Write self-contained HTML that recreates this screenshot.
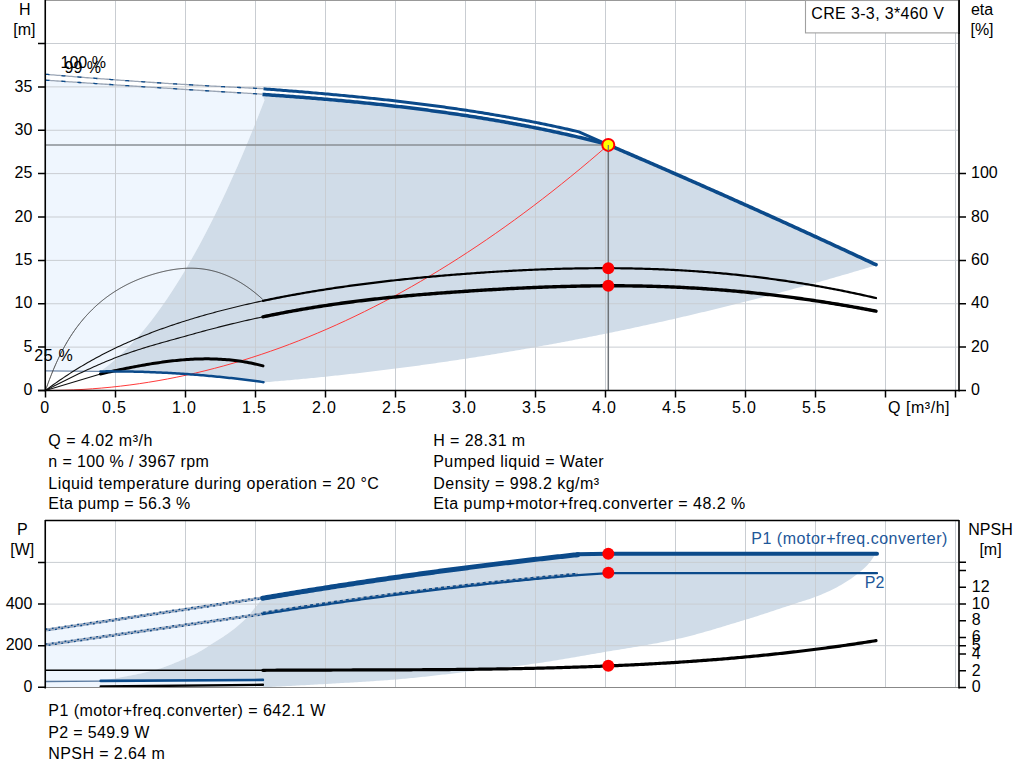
<!DOCTYPE html>
<html><head><meta charset="utf-8"><style>
html,body{margin:0;padding:0;background:#fff;width:1024px;height:781px;overflow:hidden;position:relative}
text{font-family:"Liberation Sans",sans-serif}
</style></head><body>
<svg width="1024" height="781" viewBox="0 0 1024 781" style="position:absolute;left:0;top:0">
<rect width="1024" height="781" fill="#ffffff"/>
<path d="M45.5 370.8 L45.50 80.14 L47.51 80.28 L49.52 80.42 L51.53 80.56 L53.54 80.70 L55.55 80.84 L57.56 80.98 L59.56 81.11 L61.57 81.25 L63.58 81.39 L65.59 81.53 L67.60 81.67 L69.61 81.80 L71.62 81.94 L73.63 82.08 L75.64 82.22 L77.65 82.35 L79.66 82.49 L81.67 82.63 L83.68 82.76 L85.69 82.90 L87.69 83.04 L89.70 83.17 L91.71 83.31 L93.72 83.44 L95.73 83.58 L97.74 83.72 L99.75 83.85 L101.76 83.99 L103.77 84.12 L105.78 84.25 L107.79 84.39 L109.80 84.52 L111.81 84.66 L113.81 84.79 L115.82 84.92 L117.83 85.06 L119.84 85.19 L121.85 85.32 L123.86 85.46 L125.87 85.59 L127.88 85.72 L129.89 85.85 L131.90 85.99 L133.91 86.12 L135.92 86.25 L137.93 86.38 L139.94 86.51 L141.94 86.64 L143.95 86.78 L145.96 86.91 L147.97 87.04 L149.98 87.17 L151.99 87.30 L154.00 87.43 L156.01 87.56 L158.02 87.69 L160.03 87.82 L162.04 87.95 L164.05 88.08 L166.06 88.21 L168.06 88.33 L170.07 88.46 L172.08 88.59 L174.09 88.72 L176.10 88.85 L178.11 88.98 L180.12 89.10 L182.13 89.23 L184.14 89.36 L186.15 89.49 L188.16 89.61 L190.17 89.74 L192.18 89.87 L194.19 89.99 L196.19 90.12 L198.20 90.24 L200.21 90.37 L202.22 90.50 L204.23 90.62 L206.24 90.75 L208.25 90.87 L210.26 91.00 L212.27 91.12 L214.28 91.25 L216.29 91.37 L218.30 91.50 L220.31 91.62 L222.31 91.74 L224.32 91.87 L226.33 91.99 L228.34 92.11 L230.35 92.24 L232.36 92.36 L234.37 92.48 L236.38 92.61 L238.39 92.73 L240.40 92.85 L242.41 92.97 L244.42 93.09 L246.43 93.22 L248.44 93.34 L250.44 93.46 L252.45 93.58 L254.46 93.70 L256.47 93.82 L258.48 93.94 L260.49 94.06 L262.50 94.18 L264.50 100.20 L259.10 114.06 L253.70 127.58 L248.30 140.77 L242.90 153.63 L237.50 166.16 L232.10 178.35 L226.70 190.21 L221.30 201.73 L215.90 212.92 L210.50 223.78 L205.10 234.30 L199.70 244.48 L194.30 254.33 L188.90 263.84 L183.50 273.02 L178.10 281.85 L172.70 290.35 L167.30 298.51 L161.90 306.33 L156.50 313.81 L151.10 320.94 L145.70 327.74 L140.30 334.19 L134.90 340.30 L129.50 346.07 L124.10 351.49 L118.70 356.57 L113.30 361.30 L107.90 365.68 L102.50 369.71 Z" fill="#eff6fe"/>
<path d="M262.50 94.44 L264.51 94.57 L266.52 94.71 L268.53 94.85 L270.54 94.99 L272.55 95.13 L274.56 95.27 L276.57 95.41 L278.58 95.55 L280.59 95.70 L282.60 95.84 L284.62 95.99 L286.63 96.14 L288.64 96.29 L290.65 96.44 L292.66 96.59 L294.67 96.74 L296.68 96.89 L298.69 97.05 L300.70 97.20 L302.71 97.36 L304.72 97.52 L306.73 97.68 L308.74 97.84 L310.75 98.00 L312.76 98.16 L314.77 98.33 L316.78 98.49 L318.79 98.66 L320.80 98.83 L322.81 99.00 L324.82 99.17 L326.83 99.34 L328.85 99.52 L330.86 99.69 L332.87 99.87 L334.88 100.05 L336.89 100.23 L338.90 100.41 L340.91 100.59 L342.92 100.78 L344.93 100.96 L346.94 101.15 L348.95 101.34 L350.96 101.53 L352.97 101.72 L354.98 101.92 L356.99 102.11 L359.00 102.31 L361.01 102.51 L363.02 102.71 L365.03 102.91 L367.04 103.12 L369.05 103.32 L371.07 103.53 L373.08 103.74 L375.09 103.95 L377.10 104.16 L379.11 104.38 L381.12 104.59 L383.13 104.81 L385.14 105.03 L387.15 105.26 L389.16 105.48 L391.17 105.70 L393.18 105.93 L395.19 106.16 L397.20 106.39 L399.21 106.63 L401.22 106.86 L403.23 107.10 L405.24 107.34 L407.25 107.58 L409.26 107.82 L411.27 108.07 L413.28 108.32 L415.30 108.57 L417.31 108.82 L419.32 109.07 L421.33 109.33 L423.34 109.59 L425.35 109.85 L427.36 110.11 L429.37 110.38 L431.38 110.64 L433.39 110.91 L435.40 111.18 L437.41 111.46 L439.42 111.73 L441.43 112.01 L443.44 112.29 L445.45 112.57 L447.46 112.86 L449.47 113.15 L451.48 113.44 L453.49 113.73 L455.50 114.02 L457.52 114.32 L459.53 114.62 L461.54 114.92 L463.55 115.22 L465.56 115.53 L467.57 115.84 L469.58 116.15 L471.59 116.47 L473.60 116.78 L475.61 117.10 L477.62 117.42 L479.63 117.75 L481.64 118.07 L483.65 118.40 L485.66 118.74 L487.67 119.07 L489.68 119.41 L491.69 119.75 L493.70 120.09 L495.71 120.44 L497.72 120.78 L499.73 121.13 L501.75 121.49 L503.76 121.84 L505.77 122.20 L507.78 122.56 L509.79 122.93 L511.80 123.30 L513.81 123.67 L515.82 124.04 L517.83 124.42 L519.84 124.79 L521.85 125.18 L523.86 125.56 L525.87 125.95 L527.88 126.34 L529.89 126.73 L531.90 127.13 L533.91 127.53 L535.92 127.93 L537.93 128.33 L539.94 128.74 L541.95 129.15 L543.97 129.57 L545.98 129.99 L547.99 130.41 L550.00 130.83 L552.01 131.26 L554.02 131.69 L556.03 132.12 L558.04 132.56 L560.05 133.00 L562.06 133.44 L564.07 133.88 L566.08 134.33 L568.09 134.79 L570.10 135.24 L572.11 135.70 L574.12 136.16 L576.13 136.63 L578.14 137.10 L580.15 137.57 L582.16 138.04 L584.17 138.52 L586.18 139.00 L588.20 139.49 L590.21 139.98 L592.22 140.47 L594.23 140.97 L596.24 141.47 L598.25 141.97 L600.26 142.47 L602.27 142.98 L604.28 143.50 L606.29 144.01 L608.30 144.53 L608.30 144.88 L610.31 145.74 L612.33 146.61 L614.34 147.47 L616.35 148.33 L618.36 149.19 L620.38 150.06 L622.39 150.92 L624.40 151.79 L626.42 152.65 L628.43 153.52 L630.44 154.39 L632.45 155.25 L634.47 156.12 L636.48 156.99 L638.49 157.86 L640.50 158.73 L642.52 159.60 L644.53 160.47 L646.54 161.34 L648.56 162.21 L650.57 163.09 L652.58 163.96 L654.59 164.83 L656.61 165.71 L658.62 166.58 L660.63 167.46 L662.65 168.34 L664.66 169.21 L666.67 170.09 L668.68 170.97 L670.70 171.85 L672.71 172.73 L674.72 173.61 L676.73 174.49 L678.75 175.37 L680.76 176.25 L682.77 177.14 L684.79 178.02 L686.80 178.90 L688.81 179.79 L690.82 180.67 L692.84 181.56 L694.85 182.45 L696.86 183.33 L698.88 184.22 L700.89 185.11 L702.90 186.00 L704.91 186.89 L706.93 187.78 L708.94 188.67 L710.95 189.56 L712.96 190.45 L714.98 191.34 L716.99 192.24 L719.00 193.13 L721.02 194.02 L723.03 194.92 L725.04 195.82 L727.05 196.71 L729.07 197.61 L731.08 198.51 L733.09 199.40 L735.11 200.30 L737.12 201.20 L739.13 202.10 L741.14 203.00 L743.16 203.90 L745.17 204.80 L747.18 205.71 L749.19 206.61 L751.21 207.51 L753.22 208.42 L755.23 209.32 L757.25 210.23 L759.26 211.13 L761.27 212.04 L763.28 212.95 L765.30 213.85 L767.31 214.76 L769.32 215.67 L771.34 216.58 L773.35 217.49 L775.36 218.40 L777.37 219.31 L779.39 220.23 L781.40 221.14 L783.41 222.05 L785.42 222.97 L787.44 223.88 L789.45 224.79 L791.46 225.71 L793.48 226.63 L795.49 227.54 L797.50 228.46 L799.51 229.38 L801.53 230.30 L803.54 231.22 L805.55 232.14 L807.57 233.06 L809.58 233.98 L811.59 234.90 L813.60 235.82 L815.62 236.75 L817.63 237.67 L819.64 238.59 L821.65 239.52 L823.67 240.44 L825.68 241.37 L827.69 242.30 L829.71 243.22 L831.72 244.15 L833.73 245.08 L835.74 246.01 L837.76 246.94 L839.77 247.87 L841.78 248.80 L843.80 249.73 L845.81 250.66 L847.82 251.60 L849.83 252.53 L851.85 253.47 L853.86 254.40 L855.87 255.33 L857.88 256.27 L859.90 257.21 L861.91 258.14 L863.92 259.08 L865.94 260.02 L867.95 260.96 L869.96 261.90 L871.97 262.84 L873.99 263.78 L876.00 264.72 L876.00 265.32 L874.00 265.92 L872.00 266.52 L870.00 267.12 L867.99 267.72 L865.99 268.32 L863.99 268.92 L861.99 269.51 L859.99 270.10 L857.99 270.69 L855.98 271.28 L853.98 271.87 L851.98 272.46 L849.98 273.05 L847.98 273.63 L845.98 274.21 L843.97 274.79 L841.97 275.37 L839.97 275.95 L837.97 276.53 L835.97 277.10 L833.97 277.68 L831.96 278.25 L829.96 278.82 L827.96 279.39 L825.96 279.96 L823.96 280.53 L821.96 281.09 L819.95 281.66 L817.95 282.22 L815.95 282.78 L813.95 283.34 L811.95 283.90 L809.95 284.46 L807.94 285.01 L805.94 285.56 L803.94 286.12 L801.94 286.67 L799.94 287.22 L797.94 287.77 L795.93 288.31 L793.93 288.86 L791.93 289.40 L789.93 289.94 L787.93 290.48 L785.93 291.02 L783.92 291.56 L781.92 292.10 L779.92 292.63 L777.92 293.17 L775.92 293.70 L773.92 294.23 L771.92 294.76 L769.91 295.29 L767.91 295.81 L765.91 296.34 L763.91 296.86 L761.91 297.38 L759.91 297.90 L757.90 298.42 L755.90 298.94 L753.90 299.46 L751.90 299.97 L749.90 300.48 L747.90 301.00 L745.89 301.51 L743.89 302.02 L741.89 302.52 L739.89 303.03 L737.89 303.53 L735.89 304.04 L733.88 304.54 L731.88 305.04 L729.88 305.54 L727.88 306.04 L725.88 306.53 L723.88 307.03 L721.87 307.52 L719.87 308.01 L717.87 308.50 L715.87 308.99 L713.87 309.48 L711.87 309.96 L709.86 310.45 L707.86 310.93 L705.86 311.41 L703.86 311.89 L701.86 312.37 L699.86 312.85 L697.85 313.32 L695.85 313.80 L693.85 314.27 L691.85 314.74 L689.85 315.21 L687.85 315.68 L685.84 316.15 L683.84 316.61 L681.84 317.08 L679.84 317.54 L677.84 318.00 L675.84 318.46 L673.83 318.92 L671.83 319.38 L669.83 319.83 L667.83 320.29 L665.83 320.74 L663.83 321.19 L661.83 321.64 L659.82 322.09 L657.82 322.54 L655.82 322.98 L653.82 323.43 L651.82 323.87 L649.82 324.31 L647.81 324.75 L645.81 325.19 L643.81 325.62 L641.81 326.06 L639.81 326.49 L637.81 326.93 L635.80 327.36 L633.80 327.79 L631.80 328.21 L629.80 328.64 L627.80 329.07 L625.80 329.49 L623.79 329.91 L621.79 330.33 L619.79 330.75 L617.79 331.17 L615.79 331.59 L613.79 332.00 L611.78 332.41 L609.78 332.83 L607.78 333.24 L605.78 333.65 L603.78 334.05 L601.78 334.46 L599.77 334.87 L597.77 335.27 L595.77 335.67 L593.77 336.07 L591.77 336.47 L589.77 336.87 L587.76 337.27 L585.76 337.66 L583.76 338.05 L581.76 338.45 L579.76 338.84 L577.76 339.22 L575.75 339.61 L573.75 340.00 L571.75 340.38 L569.75 340.77 L567.75 341.15 L565.75 341.53 L563.75 341.91 L561.74 342.28 L559.74 342.66 L557.74 343.04 L555.74 343.41 L553.74 343.78 L551.74 344.15 L549.73 344.52 L547.73 344.89 L545.73 345.25 L543.73 345.62 L541.73 345.98 L539.73 346.34 L537.72 346.70 L535.72 347.06 L533.72 347.42 L531.72 347.77 L529.72 348.13 L527.72 348.48 L525.71 348.83 L523.71 349.18 L521.71 349.53 L519.71 349.88 L517.71 350.22 L515.71 350.57 L513.70 350.91 L511.70 351.25 L509.70 351.59 L507.70 351.93 L505.70 352.27 L503.70 352.60 L501.69 352.94 L499.69 353.27 L497.69 353.60 L495.69 353.93 L493.69 354.26 L491.69 354.58 L489.68 354.91 L487.68 355.23 L485.68 355.56 L483.68 355.88 L481.68 356.20 L479.68 356.52 L477.67 356.83 L475.67 357.15 L473.67 357.46 L471.67 357.77 L469.67 358.08 L467.67 358.39 L465.67 358.70 L463.66 359.01 L461.66 359.31 L459.66 359.62 L457.66 359.92 L455.66 360.22 L453.66 360.52 L451.65 360.82 L449.65 361.11 L447.65 361.41 L445.65 361.70 L443.65 362.00 L441.65 362.29 L439.64 362.58 L437.64 362.86 L435.64 363.15 L433.64 363.43 L431.64 363.72 L429.64 364.00 L427.63 364.28 L425.63 364.56 L423.63 364.84 L421.63 365.11 L419.63 365.39 L417.63 365.66 L415.62 365.93 L413.62 366.20 L411.62 366.47 L409.62 366.74 L407.62 367.01 L405.62 367.27 L403.61 367.53 L401.61 367.80 L399.61 368.06 L397.61 368.32 L395.61 368.57 L393.61 368.83 L391.60 369.08 L389.60 369.34 L387.60 369.59 L385.60 369.84 L383.60 370.09 L381.60 370.34 L379.59 370.58 L377.59 370.83 L375.59 371.07 L373.59 371.31 L371.59 371.55 L369.59 371.79 L367.58 372.03 L365.58 372.26 L363.58 372.50 L361.58 372.73 L359.58 372.96 L357.58 373.19 L355.58 373.42 L353.57 373.65 L351.57 373.87 L349.57 374.10 L347.57 374.32 L345.57 374.54 L343.57 374.76 L341.56 374.98 L339.56 375.20 L337.56 375.41 L335.56 375.62 L333.56 375.84 L331.56 376.05 L329.55 376.26 L327.55 376.47 L325.55 376.67 L323.55 376.88 L321.55 377.08 L319.55 377.29 L317.54 377.49 L315.54 377.69 L313.54 377.88 L311.54 378.08 L309.54 378.28 L307.54 378.47 L305.53 378.66 L303.53 378.85 L301.53 379.04 L299.53 379.23 L297.53 379.42 L295.53 379.60 L293.52 379.79 L291.52 379.97 L289.52 380.15 L287.52 380.33 L285.52 380.51 L283.52 380.68 L281.51 380.86 L279.51 381.03 L277.51 381.20 L275.51 381.37 L273.51 381.54 L271.51 381.71 L269.50 381.88 L267.50 382.04 L265.50 382.21 L263.50 382.37 L263.50 382.15 L261.49 381.87 L259.48 381.59 L257.46 381.32 L255.45 381.05 L253.44 380.79 L251.43 380.52 L249.41 380.27 L247.40 380.01 L245.39 379.76 L243.38 379.51 L241.36 379.27 L239.35 379.03 L237.34 378.80 L235.33 378.56 L233.31 378.33 L231.30 378.11 L229.29 377.89 L227.28 377.67 L225.27 377.46 L223.25 377.25 L221.24 377.04 L219.23 376.84 L217.22 376.64 L215.20 376.44 L213.19 376.25 L211.18 376.06 L209.17 375.88 L207.15 375.70 L205.14 375.52 L203.13 375.35 L201.12 375.18 L199.10 375.01 L197.09 374.85 L195.08 374.69 L193.07 374.54 L191.06 374.39 L189.04 374.24 L187.03 374.10 L185.02 373.96 L183.01 373.82 L180.99 373.69 L178.98 373.56 L176.97 373.43 L174.96 373.31 L172.94 373.19 L170.93 373.08 L168.92 372.97 L166.91 372.86 L164.90 372.76 L162.88 372.66 L160.87 372.56 L158.86 372.47 L156.85 372.38 L154.83 372.30 L152.82 372.22 L150.81 372.14 L148.80 372.07 L146.78 372.00 L144.77 371.93 L142.76 371.87 L140.75 371.81 L138.73 371.75 L136.72 371.70 L134.71 371.65 L132.70 371.61 L130.69 371.57 L128.67 371.53 L126.66 371.50 L124.65 371.47 L122.64 371.44 L120.62 371.42 L118.61 371.40 L116.60 371.39 L114.59 371.38 L112.57 371.37 L110.56 371.37 L108.55 371.37 L106.54 371.37 L104.52 371.38 L102.51 371.39 L100.50 371.40 L102.5 371.5 L102.50 369.71 L107.90 365.68 L113.30 361.30 L118.70 356.57 L124.10 351.49 L129.50 346.07 L134.90 340.30 L140.30 334.19 L145.70 327.74 L151.10 320.94 L156.50 313.81 L161.90 306.33 L167.30 298.51 L172.70 290.35 L178.10 281.85 L183.50 273.02 L188.90 263.84 L194.30 254.33 L199.70 244.48 L205.10 234.30 L210.50 223.78 L215.90 212.92 L221.30 201.73 L226.70 190.21 L232.10 178.35 L237.50 166.16 L242.90 153.63 L248.30 140.77 L253.70 127.58 L259.10 114.06 L264.50 100.20 Z" fill="#d0dce8"/>
<path d="M115.5 1 L115.5 390 M185.5 1 L185.5 390 M255.5 1 L255.5 390 M325.5 1 L325.5 390 M395.5 1 L395.5 390 M465.5 1 L465.5 390 M535.5 1 L535.5 390 M605.5 1 L605.5 390 M675.5 1 L675.5 390 M745.5 1 L745.5 390 M815.5 1 L815.5 390 M885.5 1 L885.5 390 M955.5 1 L955.5 390 M46 347.12 L958 347.12 M46 303.75 L958 303.75 M46 260.38 L958 260.38 M46 217.00 L958 217.00 M46 173.62 L958 173.62 M46 130.25 L958 130.25 M46 86.88 L958 86.88 M46 43.50 L958 43.50" stroke="#c9cdd2" stroke-width="1" fill="none"/>
<path d="M45 0.5 L959 0.5" stroke="#999999" stroke-width="1"/>
<path d="M45.50 74.29 L47.50 74.46 L49.50 74.63 L51.50 74.80 L53.50 74.97 L55.50 75.14 L57.50 75.30 L59.50 75.47 L61.50 75.64 L63.50 75.80 L65.50 75.97 L67.50 76.13 L69.50 76.30 L71.50 76.46 L73.50 76.62 L75.50 76.78 L77.50 76.94 L79.50 77.10 L81.50 77.26 L83.50 77.42 L85.50 77.58 L87.50 77.73 L89.50 77.89 L91.50 78.05 L93.50 78.20 L95.50 78.35 L97.50 78.51 L99.50 78.66 L101.50 78.81 L103.50 78.96 L105.50 79.11 L107.50 79.26 L109.50 79.41 L111.50 79.56 L113.50 79.71 L115.50 79.85 L117.50 80.00 L119.50 80.14 L121.50 80.29 L123.50 80.43 L125.50 80.58 L127.50 80.72 L129.50 80.86 L131.50 81.00 L133.50 81.14 L135.50 81.28 L137.50 81.42 L139.50 81.56 L141.50 81.69 L143.50 81.83 L145.50 81.96 L147.50 82.10 L149.50 82.23 L151.50 82.37 L153.50 82.50 L155.50 82.63 L157.50 82.76 L159.50 82.89 L161.50 83.02 L163.50 83.15 L165.50 83.28 L167.50 83.41 L169.50 83.53 L171.50 83.66 L173.50 83.79 L175.50 83.91 L177.50 84.03 L179.50 84.16 L181.50 84.28 L183.50 84.40 L185.50 84.52 L187.50 84.64 L189.50 84.76 L191.50 84.88 L193.50 85.00 L195.50 85.12 L197.50 85.23 L199.50 85.35 L201.50 85.46 L203.50 85.58 L205.50 85.69 L207.50 85.80 L209.50 85.92 L211.50 86.03 L213.50 86.14 L215.50 86.25 L217.50 86.36 L219.50 86.47 L221.50 86.57 L223.50 86.68 L225.50 86.79 L227.50 86.89 L229.50 87.00 L231.50 87.10 L233.50 87.21 L235.50 87.31 L237.50 87.41 L239.50 87.51 L241.50 87.61 L243.50 87.71 L245.50 87.81 L247.50 87.91 L249.50 88.01 L251.50 88.10 L253.50 88.20 L255.50 88.29 L257.50 88.39 L259.50 88.48 L261.50 88.58 L263.50 88.67" stroke="#9aa5b5" stroke-width="1.3" fill="none"/>
<path d="M45.50 74.29 L47.50 74.46 L49.50 74.63 L51.50 74.80 L53.50 74.97 L55.50 75.14 L57.50 75.30 L59.50 75.47 L61.50 75.64 L63.50 75.80 L65.50 75.97 L67.50 76.13 L69.50 76.30 L71.50 76.46 L73.50 76.62 L75.50 76.78 L77.50 76.94 L79.50 77.10 L81.50 77.26 L83.50 77.42 L85.50 77.58 L87.50 77.73 L89.50 77.89 L91.50 78.05 L93.50 78.20 L95.50 78.35 L97.50 78.51 L99.50 78.66 L101.50 78.81 L103.50 78.96 L105.50 79.11 L107.50 79.26 L109.50 79.41 L111.50 79.56 L113.50 79.71 L115.50 79.85 L117.50 80.00 L119.50 80.14 L121.50 80.29 L123.50 80.43 L125.50 80.58 L127.50 80.72 L129.50 80.86 L131.50 81.00 L133.50 81.14 L135.50 81.28 L137.50 81.42 L139.50 81.56 L141.50 81.69 L143.50 81.83 L145.50 81.96 L147.50 82.10 L149.50 82.23 L151.50 82.37 L153.50 82.50 L155.50 82.63 L157.50 82.76 L159.50 82.89 L161.50 83.02 L163.50 83.15 L165.50 83.28 L167.50 83.41 L169.50 83.53 L171.50 83.66 L173.50 83.79 L175.50 83.91 L177.50 84.03 L179.50 84.16 L181.50 84.28 L183.50 84.40 L185.50 84.52 L187.50 84.64 L189.50 84.76 L191.50 84.88 L193.50 85.00 L195.50 85.12 L197.50 85.23 L199.50 85.35 L201.50 85.46 L203.50 85.58 L205.50 85.69 L207.50 85.80 L209.50 85.92 L211.50 86.03 L213.50 86.14 L215.50 86.25 L217.50 86.36 L219.50 86.47 L221.50 86.57 L223.50 86.68 L225.50 86.79 L227.50 86.89 L229.50 87.00 L231.50 87.10 L233.50 87.21 L235.50 87.31 L237.50 87.41 L239.50 87.51 L241.50 87.61 L243.50 87.71 L245.50 87.81 L247.50 87.91 L249.50 88.01 L251.50 88.10 L253.50 88.20 L255.50 88.29 L257.50 88.39 L259.50 88.48 L261.50 88.58 L263.50 88.67" stroke="#0b4a8a" stroke-width="1.3" fill="none" stroke-dasharray="4 12"/>
<path d="M45.50 80.14 L47.51 80.28 L49.52 80.42 L51.53 80.56 L53.54 80.70 L55.55 80.84 L57.56 80.98 L59.56 81.11 L61.57 81.25 L63.58 81.39 L65.59 81.53 L67.60 81.67 L69.61 81.80 L71.62 81.94 L73.63 82.08 L75.64 82.22 L77.65 82.35 L79.66 82.49 L81.67 82.63 L83.68 82.76 L85.69 82.90 L87.69 83.04 L89.70 83.17 L91.71 83.31 L93.72 83.44 L95.73 83.58 L97.74 83.72 L99.75 83.85 L101.76 83.99 L103.77 84.12 L105.78 84.25 L107.79 84.39 L109.80 84.52 L111.81 84.66 L113.81 84.79 L115.82 84.92 L117.83 85.06 L119.84 85.19 L121.85 85.32 L123.86 85.46 L125.87 85.59 L127.88 85.72 L129.89 85.85 L131.90 85.99 L133.91 86.12 L135.92 86.25 L137.93 86.38 L139.94 86.51 L141.94 86.64 L143.95 86.78 L145.96 86.91 L147.97 87.04 L149.98 87.17 L151.99 87.30 L154.00 87.43 L156.01 87.56 L158.02 87.69 L160.03 87.82 L162.04 87.95 L164.05 88.08 L166.06 88.21 L168.06 88.33 L170.07 88.46 L172.08 88.59 L174.09 88.72 L176.10 88.85 L178.11 88.98 L180.12 89.10 L182.13 89.23 L184.14 89.36 L186.15 89.49 L188.16 89.61 L190.17 89.74 L192.18 89.87 L194.19 89.99 L196.19 90.12 L198.20 90.24 L200.21 90.37 L202.22 90.50 L204.23 90.62 L206.24 90.75 L208.25 90.87 L210.26 91.00 L212.27 91.12 L214.28 91.25 L216.29 91.37 L218.30 91.50 L220.31 91.62 L222.31 91.74 L224.32 91.87 L226.33 91.99 L228.34 92.11 L230.35 92.24 L232.36 92.36 L234.37 92.48 L236.38 92.61 L238.39 92.73 L240.40 92.85 L242.41 92.97 L244.42 93.09 L246.43 93.22 L248.44 93.34 L250.44 93.46 L252.45 93.58 L254.46 93.70 L256.47 93.82 L258.48 93.94 L260.49 94.06 L262.50 94.18" stroke="#9aa5b5" stroke-width="1.3" fill="none"/>
<path d="M45.50 80.14 L47.51 80.28 L49.52 80.42 L51.53 80.56 L53.54 80.70 L55.55 80.84 L57.56 80.98 L59.56 81.11 L61.57 81.25 L63.58 81.39 L65.59 81.53 L67.60 81.67 L69.61 81.80 L71.62 81.94 L73.63 82.08 L75.64 82.22 L77.65 82.35 L79.66 82.49 L81.67 82.63 L83.68 82.76 L85.69 82.90 L87.69 83.04 L89.70 83.17 L91.71 83.31 L93.72 83.44 L95.73 83.58 L97.74 83.72 L99.75 83.85 L101.76 83.99 L103.77 84.12 L105.78 84.25 L107.79 84.39 L109.80 84.52 L111.81 84.66 L113.81 84.79 L115.82 84.92 L117.83 85.06 L119.84 85.19 L121.85 85.32 L123.86 85.46 L125.87 85.59 L127.88 85.72 L129.89 85.85 L131.90 85.99 L133.91 86.12 L135.92 86.25 L137.93 86.38 L139.94 86.51 L141.94 86.64 L143.95 86.78 L145.96 86.91 L147.97 87.04 L149.98 87.17 L151.99 87.30 L154.00 87.43 L156.01 87.56 L158.02 87.69 L160.03 87.82 L162.04 87.95 L164.05 88.08 L166.06 88.21 L168.06 88.33 L170.07 88.46 L172.08 88.59 L174.09 88.72 L176.10 88.85 L178.11 88.98 L180.12 89.10 L182.13 89.23 L184.14 89.36 L186.15 89.49 L188.16 89.61 L190.17 89.74 L192.18 89.87 L194.19 89.99 L196.19 90.12 L198.20 90.24 L200.21 90.37 L202.22 90.50 L204.23 90.62 L206.24 90.75 L208.25 90.87 L210.26 91.00 L212.27 91.12 L214.28 91.25 L216.29 91.37 L218.30 91.50 L220.31 91.62 L222.31 91.74 L224.32 91.87 L226.33 91.99 L228.34 92.11 L230.35 92.24 L232.36 92.36 L234.37 92.48 L236.38 92.61 L238.39 92.73 L240.40 92.85 L242.41 92.97 L244.42 93.09 L246.43 93.22 L248.44 93.34 L250.44 93.46 L252.45 93.58 L254.46 93.70 L256.47 93.82 L258.48 93.94 L260.49 94.06 L262.50 94.18" stroke="#0b4a8a" stroke-width="1.3" fill="none" stroke-dasharray="4 12"/>
<path d="M45.5 370.8 L100.5 371.3" stroke="#6f88aa" stroke-width="1.3" fill="none"/>
<path d="M46 144.9 L608.3 144.9" stroke="#8a8f94" stroke-width="1.5"/>
<path d="M608.3 144.9 L608.3 390" stroke="#6e7378" stroke-width="1.5"/>
<path d="M45.50 390.49 L46.50 387.62 L47.50 384.82 L48.50 382.09 L49.50 379.43 L50.50 376.83 L51.50 374.29 L52.50 371.82 L53.50 369.41 L54.50 367.06 L55.50 364.77 L56.51 362.53 L57.51 360.35 L58.51 358.23 L59.51 356.16 L60.51 354.13 L61.51 352.16 L62.51 350.24 L63.51 348.37 L64.51 346.54 L65.51 344.75 L66.51 343.01 L67.51 341.31 L68.51 339.65 L69.51 338.03 L70.51 336.45 L71.51 334.91 L72.51 333.40 L73.51 331.93 L74.51 330.49 L75.51 329.08 L76.51 327.70 L77.51 326.36 L78.52 325.05 L79.52 323.76 L80.52 322.50 L81.52 321.27 L82.52 320.07 L83.52 318.89 L84.52 317.73 L85.52 316.60 L86.52 315.49 L87.52 314.40 L88.52 313.33 L89.52 312.28 L90.52 311.25 L91.52 310.25 L92.52 309.26 L93.52 308.29 L94.52 307.34 L95.52 306.41 L96.52 305.49 L97.52 304.60 L98.52 303.72 L99.52 302.86 L100.53 302.01 L101.53 301.18 L102.53 300.37 L103.53 299.57 L104.53 298.79 L105.53 298.03 L106.53 297.27 L107.53 296.53 L108.53 295.81 L109.53 295.10 L110.53 294.40 L111.53 293.71 L112.53 293.04 L113.53 292.38 L114.53 291.73 L115.53 291.09 L116.53 290.47 L117.53 289.85 L118.53 289.25 L119.53 288.66 L120.53 288.07 L121.54 287.50 L122.54 286.94 L123.54 286.40 L124.54 285.86 L125.54 285.33 L126.54 284.81 L127.54 284.30 L128.54 283.81 L129.54 283.32 L130.54 282.84 L131.54 282.37 L132.54 281.91 L133.54 281.46 L134.54 281.02 L135.54 280.58 L136.54 280.16 L137.54 279.74 L138.54 279.33 L139.54 278.93 L140.54 278.54 L141.54 278.16 L142.54 277.78 L143.55 277.42 L144.55 277.06 L145.55 276.70 L146.55 276.36 L147.55 276.02 L148.55 275.69 L149.55 275.36 L150.55 275.04 L151.55 274.73 L152.55 274.42 L153.55 274.12 L154.55 273.83 L155.55 273.54 L156.55 273.26 L157.55 272.98 L158.55 272.72 L159.55 272.45 L160.55 272.20 L161.55 271.95 L162.55 271.71 L163.55 271.47 L164.55 271.25 L165.56 271.03 L166.56 270.81 L167.56 270.61 L168.56 270.41 L169.56 270.22 L170.56 270.04 L171.56 269.87 L172.56 269.70 L173.56 269.54 L174.56 269.39 L175.56 269.25 L176.56 269.12 L177.56 268.99 L178.56 268.87 L179.56 268.77 L180.56 268.67 L181.56 268.58 L182.56 268.50 L183.56 268.43 L184.56 268.36 L185.56 268.31 L186.56 268.27 L187.57 268.23 L188.57 268.21 L189.57 268.19 L190.57 268.19 L191.57 268.20 L192.57 268.21 L193.57 268.24 L194.57 268.27 L195.57 268.32 L196.57 268.37 L197.57 268.44 L198.57 268.52 L199.57 268.61 L200.57 268.71 L201.57 268.82 L202.57 268.94 L203.57 269.08 L204.57 269.22 L205.57 269.38 L206.57 269.54 L207.57 269.72 L208.58 269.91 L209.58 270.12 L210.58 270.33 L211.58 270.56 L212.58 270.80 L213.58 271.05 L214.58 271.31 L215.58 271.59 L216.58 271.87 L217.58 272.17 L218.58 272.49 L219.58 272.81 L220.58 273.15 L221.58 273.50 L222.58 273.86 L223.58 274.24 L224.58 274.62 L225.58 275.02 L226.58 275.44 L227.58 275.86 L228.58 276.30 L229.58 276.75 L230.59 277.22 L231.59 277.70 L232.59 278.19 L233.59 278.69 L234.59 279.21 L235.59 279.74 L236.59 280.29 L237.59 280.84 L238.59 281.41 L239.59 282.00 L240.59 282.60 L241.59 283.21 L242.59 283.83 L243.59 284.47 L244.59 285.13 L245.59 285.79 L246.59 286.47 L247.59 287.17 L248.59 287.87 L249.59 288.60 L250.59 289.33 L251.59 290.08 L252.60 290.85 L253.60 291.63 L254.60 292.42 L255.60 293.23 L256.60 294.05 L257.60 294.89 L258.60 295.74 L259.60 296.60 L260.60 297.48 L261.60 298.38 L262.60 299.29" stroke="#333" stroke-width="0.9" fill="none"/>
<path d="M45.50 390.49 L47.51 388.98 L49.53 387.49 L51.54 386.02 L53.56 384.57 L55.57 383.14 L57.58 381.72 L59.60 380.32 L61.61 378.95 L63.62 377.59 L65.64 376.24 L67.65 374.92 L69.67 373.61 L71.68 372.32 L73.69 371.04 L75.71 369.78 L77.72 368.54 L79.74 367.32 L81.75 366.11 L83.76 364.92 L85.78 363.74 L87.79 362.58 L89.81 361.43 L91.82 360.30 L93.83 359.18 L95.85 358.08 L97.86 356.99 L99.88 355.92 L101.89 354.86 L103.90 353.81 L105.92 352.78 L107.93 351.76 L109.94 350.75 L111.96 349.76 L113.97 348.78 L115.99 347.81 L118.00 346.86 L120.01 345.92 L122.03 344.99 L124.04 344.07 L126.06 343.16 L128.07 342.26 L130.08 341.38 L132.10 340.51 L134.11 339.64 L136.12 338.79 L138.14 337.95 L140.15 337.12 L142.17 336.30 L144.18 335.49 L146.19 334.69 L148.21 333.90 L150.22 333.12 L152.24 332.35 L154.25 331.59 L156.26 330.83 L158.28 330.09 L160.29 329.35 L162.31 328.63 L164.32 327.91 L166.33 327.20 L168.35 326.50 L170.36 325.81 L172.38 325.12 L174.39 324.45 L176.40 323.78 L178.42 323.12 L180.43 322.46 L182.44 321.82 L184.46 321.18 L186.47 320.55 L188.49 319.92 L190.50 319.30 L192.51 318.69 L194.53 318.09 L196.54 317.49 L198.56 316.90 L200.57 316.31 L202.58 315.73 L204.60 315.15 L206.61 314.58 L208.62 314.02 L210.64 313.46 L212.65 312.91 L214.67 312.36 L216.68 311.82 L218.69 311.29 L220.71 310.76 L222.72 310.23 L224.74 309.72 L226.75 309.20 L228.76 308.69 L230.78 308.19 L232.79 307.69 L234.81 307.20 L236.82 306.71 L238.83 306.23 L240.85 305.75 L242.86 305.28 L244.88 304.81 L246.89 304.34 L248.90 303.89 L250.92 303.43 L252.93 302.98 L254.94 302.54 L256.96 302.10 L258.97 301.66 L260.99 301.23 L263.00 300.80" stroke="#111" stroke-width="1.1" fill="none"/>
<path d="M45.50 390.50 L47.51 389.46 L49.53 388.42 L51.54 387.38 L53.56 386.35 L55.57 385.32 L57.58 384.29 L59.60 383.27 L61.61 382.25 L63.62 381.24 L65.64 380.23 L67.65 379.23 L69.67 378.23 L71.68 377.24 L73.69 376.25 L75.71 375.28 L77.72 374.31 L79.74 373.34 L81.75 372.38 L83.76 371.44 L85.78 370.49 L87.79 369.56 L89.81 368.64 L91.82 367.73 L93.83 366.82 L95.85 365.93 L97.86 365.04 L99.88 364.17 L101.89 363.30 L103.90 362.45 L105.92 361.61 L107.93 360.78 L109.94 359.96 L111.96 359.16 L113.97 358.36 L115.99 357.58 L118.00 356.82 L120.01 356.06 L122.03 355.32 L124.04 354.59 L126.06 353.88 L128.07 353.17 L130.08 352.47 L132.10 351.79 L134.11 351.11 L136.12 350.45 L138.14 349.80 L140.15 349.15 L142.17 348.51 L144.18 347.88 L146.19 347.26 L148.21 346.65 L150.22 346.05 L152.24 345.45 L154.25 344.86 L156.26 344.28 L158.28 343.70 L160.29 343.12 L162.31 342.55 L164.32 341.99 L166.33 341.43 L168.35 340.87 L170.36 340.31 L172.38 339.76 L174.39 339.20 L176.40 338.65 L178.42 338.10 L180.43 337.54 L182.44 336.99 L184.46 336.43 L186.47 335.87 L188.49 335.31 L190.50 334.75 L192.51 334.19 L194.53 333.62 L196.54 333.06 L198.56 332.51 L200.57 331.95 L202.58 331.40 L204.60 330.86 L206.61 330.32 L208.62 329.78 L210.64 329.24 L212.65 328.72 L214.67 328.19 L216.68 327.67 L218.69 327.15 L220.71 326.64 L222.72 326.13 L224.74 325.63 L226.75 325.13 L228.76 324.63 L230.78 324.14 L232.79 323.65 L234.81 323.17 L236.82 322.69 L238.83 322.22 L240.85 321.74 L242.86 321.28 L244.88 320.81 L246.89 320.36 L248.90 319.90 L250.92 319.45 L252.93 319.00 L254.94 318.56 L256.96 318.12 L258.97 317.69 L260.99 317.26 L263.00 316.83" stroke="#111" stroke-width="1.1" fill="none"/>
<path d="M45.5 390.5 L100.5 374" stroke="#111" stroke-width="1.1" fill="none"/>
<path d="M45.50 390.50 L54.88 390.43 L64.26 390.23 L73.64 389.89 L83.02 389.41 L92.40 388.79 L101.78 388.04 L111.16 387.16 L120.54 386.13 L129.92 384.97 L139.30 383.68 L148.68 382.24 L158.06 380.68 L167.44 378.97 L176.82 377.13 L186.20 375.15 L195.58 373.03 L204.96 370.78 L214.34 368.39 L223.72 365.87 L233.10 363.21 L242.48 360.41 L251.86 357.48 L261.24 354.41 L270.62 351.20 L280.00 347.86 L289.38 344.38 L298.76 340.76 L308.14 337.01 L317.52 333.12 L326.90 329.10 L336.28 324.93 L345.66 320.64 L355.04 316.20 L364.42 311.63 L373.80 306.92 L383.18 302.08 L392.56 297.10 L401.94 291.98 L411.32 286.73 L420.70 281.34 L430.08 275.81 L439.46 270.15 L448.84 264.35 L458.22 258.41 L467.60 252.34 L476.98 246.13 L486.36 239.79 L495.74 233.31 L505.12 226.69 L514.50 219.93 L523.88 213.04 L533.26 206.02 L542.64 198.85 L552.02 191.55 L561.40 184.11 L570.78 176.54 L580.16 168.83 L589.54 160.99 L598.92 153.00 L608.30 144.88" stroke="#ff3a3a" stroke-width="1" fill="none"/>
<path d="M263.00 300.80 L265.00 300.38 L267.01 299.96 L269.01 299.55 L271.01 299.14 L273.02 298.74 L275.02 298.34 L277.02 297.94 L279.03 297.55 L281.03 297.16 L283.03 296.78 L285.04 296.40 L287.04 296.02 L289.04 295.65 L291.05 295.28 L293.05 294.91 L295.05 294.55 L297.06 294.19 L299.06 293.83 L301.06 293.48 L303.07 293.13 L305.07 292.78 L307.07 292.44 L309.08 292.10 L311.08 291.76 L313.08 291.43 L315.08 291.10 L317.09 290.77 L319.09 290.45 L321.09 290.13 L323.10 289.81 L325.10 289.49 L327.10 289.18 L329.11 288.87 L331.11 288.57 L333.11 288.26 L335.12 287.96 L337.12 287.67 L339.12 287.37 L341.13 287.08 L343.13 286.79 L345.13 286.51 L347.14 286.23 L349.14 285.95 L351.14 285.67 L353.15 285.40 L355.15 285.13 L357.15 284.86 L359.16 284.59 L361.16 284.33 L363.16 284.07 L365.17 283.81 L367.17 283.55 L369.17 283.30 L371.18 283.05 L373.18 282.80 L375.18 282.56 L377.19 282.32 L379.19 282.08 L381.19 281.84 L383.20 281.60 L385.20 281.37 L387.20 281.14 L389.21 280.91 L391.21 280.69 L393.21 280.47 L395.22 280.25 L397.22 280.03 L399.22 279.81 L401.23 279.60 L403.23 279.39 L405.23 279.18 L407.24 278.97 L409.24 278.76 L411.24 278.56 L413.25 278.36 L415.25 278.16 L417.25 277.97 L419.25 277.77 L421.26 277.58 L423.26 277.39 L425.26 277.20 L427.27 277.01 L429.27 276.83 L431.27 276.65 L433.28 276.47 L435.28 276.29 L437.28 276.11 L439.29 275.94 L441.29 275.77 L443.29 275.59 L445.30 275.43 L447.30 275.26 L449.30 275.09 L451.31 274.93 L453.31 274.77 L455.31 274.61 L457.32 274.45 L459.32 274.29 L461.32 274.14 L463.33 273.98 L465.33 273.83 L467.33 273.68 L469.34 273.53 L471.34 273.38 L473.34 273.24 L475.35 273.09 L477.35 272.95 L479.35 272.81 L481.36 272.67 L483.36 272.54 L485.36 272.40 L487.37 272.27 L489.37 272.14 L491.37 272.01 L493.38 271.88 L495.38 271.76 L497.38 271.63 L499.39 271.51 L501.39 271.39 L503.39 271.27 L505.40 271.16 L507.40 271.05 L509.40 270.93 L511.41 270.82 L513.41 270.72 L515.41 270.61 L517.42 270.51 L519.42 270.40 L521.42 270.30 L523.42 270.21 L525.43 270.11 L527.43 270.02 L529.43 269.93 L531.44 269.84 L533.44 269.75 L535.44 269.67 L537.45 269.58 L539.45 269.50 L541.45 269.43 L543.46 269.35 L545.46 269.28 L547.46 269.21 L549.47 269.14 L551.47 269.07 L553.47 269.01 L555.48 268.94 L557.48 268.88 L559.48 268.83 L561.49 268.77 L563.49 268.72 L565.49 268.67 L567.50 268.62 L569.50 268.58 L571.50 268.53 L573.51 268.49 L575.51 268.45 L577.51 268.42 L579.52 268.39 L581.52 268.35 L583.52 268.33 L585.53 268.30 L587.53 268.28 L589.53 268.26 L591.54 268.24 L593.54 268.23 L595.54 268.21 L597.55 268.20 L599.55 268.20 L601.55 268.19 L603.56 268.19 L605.56 268.19 L607.56 268.19 L609.57 268.20 L611.57 268.21 L613.57 268.22 L615.58 268.24 L617.58 268.25 L619.58 268.27 L621.58 268.30 L623.59 268.32 L625.59 268.35 L627.59 268.38 L629.60 268.42 L631.60 268.45 L633.60 268.49 L635.61 268.54 L637.61 268.58 L639.61 268.63 L641.62 268.68 L643.62 268.74 L645.62 268.80 L647.63 268.86 L649.63 268.92 L651.63 268.99 L653.64 269.06 L655.64 269.13 L657.64 269.21 L659.65 269.29 L661.65 269.37 L663.65 269.46 L665.66 269.54 L667.66 269.64 L669.66 269.73 L671.67 269.83 L673.67 269.93 L675.67 270.04 L677.68 270.14 L679.68 270.25 L681.68 270.37 L683.69 270.49 L685.69 270.61 L687.69 270.73 L689.70 270.86 L691.70 270.99 L693.70 271.12 L695.71 271.26 L697.71 271.40 L699.71 271.54 L701.72 271.69 L703.72 271.84 L705.72 271.99 L707.73 272.15 L709.73 272.31 L711.73 272.48 L713.74 272.64 L715.74 272.81 L717.74 272.99 L719.75 273.17 L721.75 273.35 L723.75 273.53 L725.75 273.72 L727.76 273.91 L729.76 274.10 L731.76 274.30 L733.77 274.50 L735.77 274.71 L737.77 274.91 L739.78 275.13 L741.78 275.34 L743.78 275.56 L745.79 275.78 L747.79 276.01 L749.79 276.24 L751.80 276.47 L753.80 276.70 L755.80 276.94 L757.81 277.19 L759.81 277.43 L761.81 277.68 L763.82 277.94 L765.82 278.19 L767.82 278.45 L769.83 278.72 L771.83 278.99 L773.83 279.26 L775.84 279.53 L777.84 279.81 L779.84 280.09 L781.85 280.38 L783.85 280.67 L785.85 280.96 L787.86 281.26 L789.86 281.56 L791.86 281.86 L793.87 282.17 L795.87 282.48 L797.87 282.80 L799.88 283.12 L801.88 283.44 L803.88 283.77 L805.89 284.10 L807.89 284.43 L809.89 284.77 L811.90 285.11 L813.90 285.45 L815.90 285.80 L817.91 286.15 L819.91 286.51 L821.91 286.87 L823.92 287.23 L825.92 287.60 L827.92 287.97 L829.92 288.34 L831.93 288.72 L833.93 289.11 L835.93 289.49 L837.94 289.88 L839.94 290.28 L841.94 290.67 L843.95 291.08 L845.95 291.48 L847.95 291.89 L849.96 292.30 L851.96 292.72 L853.96 293.14 L855.97 293.57 L857.97 294.00 L859.97 294.43 L861.98 294.86 L863.98 295.31 L865.98 295.75 L867.99 296.20 L869.99 296.65 L871.99 297.11 L874.00 297.57 L876.00 298.03" stroke="#000" stroke-width="2.2" fill="none" stroke-linecap="round"/>
<path d="M263.00 316.83 L265.00 316.41 L267.01 315.99 L269.01 315.58 L271.01 315.17 L273.02 314.77 L275.02 314.37 L277.02 313.97 L279.03 313.58 L281.03 313.19 L283.03 312.80 L285.04 312.42 L287.04 312.04 L289.04 311.67 L291.05 311.30 L293.05 310.94 L295.05 310.57 L297.06 310.22 L299.06 309.86 L301.06 309.51 L303.07 309.17 L305.07 308.82 L307.07 308.49 L309.08 308.15 L311.08 307.82 L313.08 307.49 L315.08 307.17 L317.09 306.85 L319.09 306.53 L321.09 306.22 L323.10 305.91 L325.10 305.61 L327.10 305.31 L329.11 305.01 L331.11 304.71 L333.11 304.42 L335.12 304.13 L337.12 303.85 L339.12 303.57 L341.13 303.29 L343.13 303.01 L345.13 302.74 L347.14 302.47 L349.14 302.21 L351.14 301.95 L353.15 301.69 L355.15 301.43 L357.15 301.18 L359.16 300.93 L361.16 300.69 L363.16 300.44 L365.17 300.20 L367.17 299.97 L369.17 299.73 L371.18 299.50 L373.18 299.27 L375.18 299.05 L377.19 298.83 L379.19 298.61 L381.19 298.39 L383.20 298.18 L385.20 297.96 L387.20 297.76 L389.21 297.55 L391.21 297.35 L393.21 297.15 L395.22 296.95 L397.22 296.75 L399.22 296.56 L401.23 296.37 L403.23 296.18 L405.23 296.00 L407.24 295.81 L409.24 295.63 L411.24 295.45 L413.25 295.28 L415.25 295.10 L417.25 294.93 L419.25 294.76 L421.26 294.59 L423.26 294.43 L425.26 294.26 L427.27 294.10 L429.27 293.94 L431.27 293.78 L433.28 293.62 L435.28 293.47 L437.28 293.31 L439.29 293.16 L441.29 293.01 L443.29 292.86 L445.30 292.72 L447.30 292.57 L449.30 292.43 L451.31 292.28 L453.31 292.14 L455.31 292.00 L457.32 291.86 L459.32 291.72 L461.32 291.59 L463.33 291.45 L465.33 291.32 L467.33 291.18 L469.34 291.05 L471.34 290.92 L473.34 290.79 L475.35 290.66 L477.35 290.53 L479.35 290.41 L481.36 290.28 L483.36 290.16 L485.36 290.03 L487.37 289.91 L489.37 289.79 L491.37 289.68 L493.38 289.56 L495.38 289.44 L497.38 289.33 L499.39 289.22 L501.39 289.10 L503.39 288.99 L505.40 288.89 L507.40 288.78 L509.40 288.67 L511.41 288.57 L513.41 288.47 L515.41 288.37 L517.42 288.27 L519.42 288.17 L521.42 288.08 L523.42 287.98 L525.43 287.89 L527.43 287.80 L529.43 287.71 L531.44 287.62 L533.44 287.54 L535.44 287.46 L537.45 287.37 L539.45 287.29 L541.45 287.22 L543.46 287.14 L545.46 287.06 L547.46 286.99 L549.47 286.92 L551.47 286.85 L553.47 286.79 L555.48 286.72 L557.48 286.66 L559.48 286.60 L561.49 286.54 L563.49 286.48 L565.49 286.43 L567.50 286.38 L569.50 286.33 L571.50 286.28 L573.51 286.23 L575.51 286.19 L577.51 286.14 L579.52 286.11 L581.52 286.07 L583.52 286.03 L585.53 286.00 L587.53 285.97 L589.53 285.94 L591.54 285.91 L593.54 285.89 L595.54 285.87 L597.55 285.85 L599.55 285.83 L601.55 285.82 L603.56 285.81 L605.56 285.80 L607.56 285.79 L609.57 285.78 L611.57 285.78 L613.57 285.78 L615.58 285.79 L617.58 285.79 L619.58 285.80 L621.58 285.81 L623.59 285.82 L625.59 285.84 L627.59 285.86 L629.60 285.88 L631.60 285.90 L633.60 285.93 L635.61 285.96 L637.61 285.99 L639.61 286.02 L641.62 286.06 L643.62 286.10 L645.62 286.14 L647.63 286.19 L649.63 286.24 L651.63 286.29 L653.64 286.34 L655.64 286.40 L657.64 286.46 L659.65 286.52 L661.65 286.59 L663.65 286.66 L665.66 286.73 L667.66 286.80 L669.66 286.88 L671.67 286.96 L673.67 287.05 L675.67 287.13 L677.68 287.22 L679.68 287.32 L681.68 287.41 L683.69 287.51 L685.69 287.62 L687.69 287.72 L689.70 287.83 L691.70 287.94 L693.70 288.06 L695.71 288.17 L697.71 288.30 L699.71 288.42 L701.72 288.55 L703.72 288.68 L705.72 288.81 L707.73 288.95 L709.73 289.09 L711.73 289.23 L713.74 289.37 L715.74 289.52 L717.74 289.67 L719.75 289.83 L721.75 289.99 L723.75 290.15 L725.75 290.31 L727.76 290.48 L729.76 290.65 L731.76 290.82 L733.77 291.00 L735.77 291.18 L737.77 291.36 L739.78 291.54 L741.78 291.73 L743.78 291.92 L745.79 292.12 L747.79 292.31 L749.79 292.51 L751.80 292.72 L753.80 292.92 L755.80 293.13 L757.81 293.35 L759.81 293.56 L761.81 293.78 L763.82 294.00 L765.82 294.22 L767.82 294.45 L769.83 294.68 L771.83 294.92 L773.83 295.15 L775.84 295.39 L777.84 295.63 L779.84 295.88 L781.85 296.13 L783.85 296.38 L785.85 296.63 L787.86 296.89 L789.86 297.15 L791.86 297.42 L793.87 297.68 L795.87 297.95 L797.87 298.22 L799.88 298.50 L801.88 298.78 L803.88 299.06 L805.89 299.34 L807.89 299.63 L809.89 299.92 L811.90 300.21 L813.90 300.51 L815.90 300.81 L817.91 301.11 L819.91 301.42 L821.91 301.73 L823.92 302.04 L825.92 302.35 L827.92 302.67 L829.92 302.99 L831.93 303.31 L833.93 303.64 L835.93 303.97 L837.94 304.30 L839.94 304.63 L841.94 304.97 L843.95 305.31 L845.95 305.65 L847.95 306.00 L849.96 306.35 L851.96 306.70 L853.96 307.06 L855.97 307.41 L857.97 307.78 L859.97 308.14 L861.98 308.51 L863.98 308.88 L865.98 309.25 L867.99 309.63 L869.99 310.00 L871.99 310.39 L874.00 310.77 L876.00 311.16" stroke="#000" stroke-width="3.4" fill="none" stroke-linecap="round"/>
<path d="M100.50 373.92 L102.51 373.47 L104.51 373.03 L106.52 372.58 L108.52 372.14 L110.53 371.71 L112.54 371.27 L114.54 370.84 L116.55 370.41 L118.56 369.98 L120.56 369.56 L122.57 369.15 L124.57 368.73 L126.58 368.33 L128.59 367.92 L130.59 367.52 L132.60 367.13 L134.60 366.75 L136.61 366.37 L138.62 365.99 L140.62 365.62 L142.63 365.26 L144.64 364.91 L146.64 364.56 L148.65 364.22 L150.65 363.89 L152.66 363.57 L154.67 363.25 L156.67 362.95 L158.68 362.65 L160.69 362.36 L162.69 362.08 L164.70 361.82 L166.70 361.56 L168.71 361.31 L170.72 361.07 L172.72 360.84 L174.73 360.62 L176.73 360.42 L178.74 360.22 L180.75 360.04 L182.75 359.87 L184.76 359.71 L186.77 359.57 L188.77 359.44 L190.78 359.32 L192.78 359.21 L194.79 359.12 L196.80 359.04 L198.80 358.97 L200.81 358.92 L202.81 358.88 L204.82 358.86 L206.83 358.86 L208.83 358.87 L210.84 358.89 L212.85 358.93 L214.85 358.99 L216.86 359.06 L218.86 359.15 L220.87 359.26 L222.88 359.38 L224.88 359.52 L226.89 359.68 L228.90 359.86 L230.90 360.06 L232.91 360.27 L234.91 360.50 L236.92 360.76 L238.93 361.03 L240.93 361.32 L242.94 361.63 L244.94 361.96 L246.95 362.31 L248.96 362.68 L250.96 363.07 L252.97 363.49 L254.98 363.92 L256.98 364.38 L258.99 364.86 L260.99 365.36 L263.00 365.88" stroke="#000" stroke-width="3" fill="none" stroke-linecap="round"/>
<path d="M100.50 371.40 L102.51 371.39 L104.52 371.38 L106.54 371.37 L108.55 371.37 L110.56 371.37 L112.57 371.37 L114.59 371.38 L116.60 371.39 L118.61 371.40 L120.62 371.42 L122.64 371.44 L124.65 371.47 L126.66 371.50 L128.67 371.53 L130.69 371.57 L132.70 371.61 L134.71 371.65 L136.72 371.70 L138.73 371.75 L140.75 371.81 L142.76 371.87 L144.77 371.93 L146.78 372.00 L148.80 372.07 L150.81 372.14 L152.82 372.22 L154.83 372.30 L156.85 372.38 L158.86 372.47 L160.87 372.56 L162.88 372.66 L164.90 372.76 L166.91 372.86 L168.92 372.97 L170.93 373.08 L172.94 373.19 L174.96 373.31 L176.97 373.43 L178.98 373.56 L180.99 373.69 L183.01 373.82 L185.02 373.96 L187.03 374.10 L189.04 374.24 L191.06 374.39 L193.07 374.54 L195.08 374.69 L197.09 374.85 L199.10 375.01 L201.12 375.18 L203.13 375.35 L205.14 375.52 L207.15 375.70 L209.17 375.88 L211.18 376.06 L213.19 376.25 L215.20 376.44 L217.22 376.64 L219.23 376.84 L221.24 377.04 L223.25 377.25 L225.27 377.46 L227.28 377.67 L229.29 377.89 L231.30 378.11 L233.31 378.33 L235.33 378.56 L237.34 378.80 L239.35 379.03 L241.36 379.27 L243.38 379.51 L245.39 379.76 L247.40 380.01 L249.41 380.27 L251.43 380.52 L253.44 380.79 L255.45 381.05 L257.46 381.32 L259.48 381.59 L261.49 381.87 L263.50 382.15" stroke="#0b4a8a" stroke-width="2.5" fill="none" stroke-linecap="round"/>
<path d="M263.50 88.86 L265.51 89.01 L267.52 89.16 L269.53 89.32 L271.54 89.47 L273.55 89.62 L275.56 89.78 L277.57 89.93 L279.58 90.09 L281.59 90.24 L283.60 90.40 L285.61 90.56 L287.61 90.72 L289.62 90.88 L291.63 91.04 L293.64 91.20 L295.65 91.36 L297.66 91.52 L299.67 91.69 L301.68 91.85 L303.69 92.02 L305.70 92.19 L307.71 92.36 L309.72 92.52 L311.73 92.69 L313.74 92.87 L315.75 93.04 L317.76 93.21 L319.77 93.38 L321.78 93.56 L323.79 93.74 L325.80 93.91 L327.81 94.09 L329.82 94.27 L331.82 94.46 L333.83 94.64 L335.84 94.82 L337.85 95.01 L339.86 95.19 L341.87 95.38 L343.88 95.57 L345.89 95.76 L347.90 95.95 L349.91 96.15 L351.92 96.34 L353.93 96.54 L355.94 96.73 L357.95 96.93 L359.96 97.13 L361.97 97.33 L363.98 97.54 L365.99 97.74 L368.00 97.95 L370.01 98.16 L372.02 98.37 L374.03 98.58 L376.04 98.79 L378.04 99.00 L380.05 99.22 L382.06 99.44 L384.07 99.66 L386.08 99.88 L388.09 100.10 L390.10 100.33 L392.11 100.55 L394.12 100.78 L396.13 101.01 L398.14 101.24 L400.15 101.48 L402.16 101.71 L404.17 101.95 L406.18 102.19 L408.19 102.43 L410.20 102.67 L412.21 102.92 L414.22 103.16 L416.23 103.41 L418.24 103.66 L420.25 103.92 L422.25 104.17 L424.26 104.43 L426.27 104.69 L428.28 104.95 L430.29 105.21 L432.30 105.48 L434.31 105.74 L436.32 106.01 L438.33 106.29 L440.34 106.56 L442.35 106.84 L444.36 107.11 L446.37 107.40 L448.38 107.68 L450.39 107.96 L452.40 108.25 L454.41 108.54 L456.42 108.83 L458.43 109.13 L460.44 109.43 L462.45 109.72 L464.46 110.03 L466.46 110.33 L468.47 110.64 L470.48 110.95 L472.49 111.26 L474.50 111.57 L476.51 111.89 L478.52 112.21 L480.53 112.53 L482.54 112.85 L484.55 113.18 L486.56 113.51 L488.57 113.84 L490.58 114.18 L492.59 114.52 L494.60 114.86 L496.61 115.20 L498.62 115.55 L500.63 115.89 L502.64 116.24 L504.65 116.60 L506.66 116.96 L508.67 117.31 L510.68 117.68 L512.68 118.04 L514.69 118.41 L516.70 118.78 L518.71 119.16 L520.72 119.53 L522.73 119.91 L524.74 120.30 L526.75 120.68 L528.76 121.07 L530.77 121.46 L532.78 121.86 L534.79 122.25 L536.80 122.65 L538.81 123.06 L540.82 123.47 L542.83 123.88 L544.84 124.29 L546.85 124.71 L548.86 125.13 L550.87 125.55 L552.88 125.97 L554.89 126.40 L556.89 126.84 L558.90 127.27 L560.91 127.71 L562.92 128.15 L564.93 128.60 L566.94 129.05 L568.95 129.50 L570.96 129.96 L572.97 130.42 L574.98 130.88 L576.99 131.35 L579.00 131.82 L608.3 144.9" stroke="#0b4a8a" stroke-width="3" fill="none"/>
<path d="M262.50 94.44 L264.51 94.57 L266.52 94.71 L268.53 94.85 L270.54 94.99 L272.55 95.13 L274.56 95.27 L276.57 95.41 L278.58 95.55 L280.59 95.70 L282.60 95.84 L284.62 95.99 L286.63 96.14 L288.64 96.29 L290.65 96.44 L292.66 96.59 L294.67 96.74 L296.68 96.89 L298.69 97.05 L300.70 97.20 L302.71 97.36 L304.72 97.52 L306.73 97.68 L308.74 97.84 L310.75 98.00 L312.76 98.16 L314.77 98.33 L316.78 98.49 L318.79 98.66 L320.80 98.83 L322.81 99.00 L324.82 99.17 L326.83 99.34 L328.85 99.52 L330.86 99.69 L332.87 99.87 L334.88 100.05 L336.89 100.23 L338.90 100.41 L340.91 100.59 L342.92 100.78 L344.93 100.96 L346.94 101.15 L348.95 101.34 L350.96 101.53 L352.97 101.72 L354.98 101.92 L356.99 102.11 L359.00 102.31 L361.01 102.51 L363.02 102.71 L365.03 102.91 L367.04 103.12 L369.05 103.32 L371.07 103.53 L373.08 103.74 L375.09 103.95 L377.10 104.16 L379.11 104.38 L381.12 104.59 L383.13 104.81 L385.14 105.03 L387.15 105.26 L389.16 105.48 L391.17 105.70 L393.18 105.93 L395.19 106.16 L397.20 106.39 L399.21 106.63 L401.22 106.86 L403.23 107.10 L405.24 107.34 L407.25 107.58 L409.26 107.82 L411.27 108.07 L413.28 108.32 L415.30 108.57 L417.31 108.82 L419.32 109.07 L421.33 109.33 L423.34 109.59 L425.35 109.85 L427.36 110.11 L429.37 110.38 L431.38 110.64 L433.39 110.91 L435.40 111.18 L437.41 111.46 L439.42 111.73 L441.43 112.01 L443.44 112.29 L445.45 112.57 L447.46 112.86 L449.47 113.15 L451.48 113.44 L453.49 113.73 L455.50 114.02 L457.52 114.32 L459.53 114.62 L461.54 114.92 L463.55 115.22 L465.56 115.53 L467.57 115.84 L469.58 116.15 L471.59 116.47 L473.60 116.78 L475.61 117.10 L477.62 117.42 L479.63 117.75 L481.64 118.07 L483.65 118.40 L485.66 118.74 L487.67 119.07 L489.68 119.41 L491.69 119.75 L493.70 120.09 L495.71 120.44 L497.72 120.78 L499.73 121.13 L501.75 121.49 L503.76 121.84 L505.77 122.20 L507.78 122.56 L509.79 122.93 L511.80 123.30 L513.81 123.67 L515.82 124.04 L517.83 124.42 L519.84 124.79 L521.85 125.18 L523.86 125.56 L525.87 125.95 L527.88 126.34 L529.89 126.73 L531.90 127.13 L533.91 127.53 L535.92 127.93 L537.93 128.33 L539.94 128.74 L541.95 129.15 L543.97 129.57 L545.98 129.99 L547.99 130.41 L550.00 130.83 L552.01 131.26 L554.02 131.69 L556.03 132.12 L558.04 132.56 L560.05 133.00 L562.06 133.44 L564.07 133.88 L566.08 134.33 L568.09 134.79 L570.10 135.24 L572.11 135.70 L574.12 136.16 L576.13 136.63 L578.14 137.10 L580.15 137.57 L582.16 138.04 L584.17 138.52 L586.18 139.00 L588.20 139.49 L590.21 139.98 L592.22 140.47 L594.23 140.97 L596.24 141.47 L598.25 141.97 L600.26 142.47 L602.27 142.98 L604.28 143.50 L606.29 144.01 L608.30 144.53" stroke="#0b4a8a" stroke-width="3.5" fill="none"/>
<path d="M608.30 144.88 L610.31 145.74 L612.33 146.61 L614.34 147.47 L616.35 148.33 L618.36 149.19 L620.38 150.06 L622.39 150.92 L624.40 151.79 L626.42 152.65 L628.43 153.52 L630.44 154.39 L632.45 155.25 L634.47 156.12 L636.48 156.99 L638.49 157.86 L640.50 158.73 L642.52 159.60 L644.53 160.47 L646.54 161.34 L648.56 162.21 L650.57 163.09 L652.58 163.96 L654.59 164.83 L656.61 165.71 L658.62 166.58 L660.63 167.46 L662.65 168.34 L664.66 169.21 L666.67 170.09 L668.68 170.97 L670.70 171.85 L672.71 172.73 L674.72 173.61 L676.73 174.49 L678.75 175.37 L680.76 176.25 L682.77 177.14 L684.79 178.02 L686.80 178.90 L688.81 179.79 L690.82 180.67 L692.84 181.56 L694.85 182.45 L696.86 183.33 L698.88 184.22 L700.89 185.11 L702.90 186.00 L704.91 186.89 L706.93 187.78 L708.94 188.67 L710.95 189.56 L712.96 190.45 L714.98 191.34 L716.99 192.24 L719.00 193.13 L721.02 194.02 L723.03 194.92 L725.04 195.82 L727.05 196.71 L729.07 197.61 L731.08 198.51 L733.09 199.40 L735.11 200.30 L737.12 201.20 L739.13 202.10 L741.14 203.00 L743.16 203.90 L745.17 204.80 L747.18 205.71 L749.19 206.61 L751.21 207.51 L753.22 208.42 L755.23 209.32 L757.25 210.23 L759.26 211.13 L761.27 212.04 L763.28 212.95 L765.30 213.85 L767.31 214.76 L769.32 215.67 L771.34 216.58 L773.35 217.49 L775.36 218.40 L777.37 219.31 L779.39 220.23 L781.40 221.14 L783.41 222.05 L785.42 222.97 L787.44 223.88 L789.45 224.79 L791.46 225.71 L793.48 226.63 L795.49 227.54 L797.50 228.46 L799.51 229.38 L801.53 230.30 L803.54 231.22 L805.55 232.14 L807.57 233.06 L809.58 233.98 L811.59 234.90 L813.60 235.82 L815.62 236.75 L817.63 237.67 L819.64 238.59 L821.65 239.52 L823.67 240.44 L825.68 241.37 L827.69 242.30 L829.71 243.22 L831.72 244.15 L833.73 245.08 L835.74 246.01 L837.76 246.94 L839.77 247.87 L841.78 248.80 L843.80 249.73 L845.81 250.66 L847.82 251.60 L849.83 252.53 L851.85 253.47 L853.86 254.40 L855.87 255.33 L857.88 256.27 L859.90 257.21 L861.91 258.14 L863.92 259.08 L865.94 260.02 L867.95 260.96 L869.96 261.90 L871.97 262.84 L873.99 263.78 L876.00 264.72" stroke="#0b4a8a" stroke-width="3.6" fill="none" stroke-linecap="round"/>
<circle cx="608.3" cy="268.3" r="6" fill="#ff0000"/>
<circle cx="608.3" cy="285.8" r="6" fill="#ff0000"/>
<circle cx="608.3" cy="144.9" r="6" fill="#ffff00" stroke="#ff0000" stroke-width="2"/>
<path d="M608.3 144.9 L608.3 151" stroke="#6e7378" stroke-width="1.2"/>
<path d="M45.25 0 L45.25 391.5 M38 390.5 L959 390.5 M959 0 L959 391.5" stroke="#000" stroke-width="1.6" fill="none"/>
<path d="M38 390.50 L45 390.50 M38 347.12 L45 347.12 M38 303.75 L45 303.75 M38 260.38 L45 260.38 M38 217.00 L45 217.00 M38 173.62 L45 173.62 M38 130.25 L45 130.25 M38 86.88 L45 86.88 M38 43.50 L45 43.50 M45.5 390 L45.5 397.5 M115.5 390 L115.5 397.5 M185.5 390 L185.5 397.5 M255.5 390 L255.5 397.5 M325.5 390 L325.5 397.5 M395.5 390 L395.5 397.5 M465.5 390 L465.5 397.5 M535.5 390 L535.5 397.5 M605.5 390 L605.5 397.5 M675.5 390 L675.5 397.5 M745.5 390 L745.5 397.5 M815.5 390 L815.5 397.5 M885.5 390 L885.5 397.5 M955.5 390 L955.5 397.5 M959 390.50 L966 390.50 M959 347.12 L966 347.12 M959 303.75 L966 303.75 M959 260.38 L966 260.38 M959 217.00 L966 217.00 M959 173.62 L966 173.62" stroke="#000" stroke-width="1.5" fill="none"/>
<rect x="805.5" y="0.5" width="153" height="32.4" fill="#ffffff" stroke="#a0a0a0" stroke-width="1.1"/>
<path d="M959 0 L959 34" stroke="#000" stroke-width="1.6"/>
<path d="M45.5 687.3 L45.50 630.09 L47.51 629.79 L49.52 629.49 L51.53 629.20 L53.54 628.90 L55.56 628.60 L57.57 628.30 L59.58 628.00 L61.59 627.71 L63.60 627.41 L65.61 627.11 L67.62 626.81 L69.63 626.51 L71.64 626.21 L73.66 625.92 L75.67 625.62 L77.68 625.32 L79.69 625.02 L81.70 624.72 L83.71 624.43 L85.72 624.13 L87.73 623.83 L89.74 623.53 L91.76 623.23 L93.77 622.93 L95.78 622.64 L97.79 622.34 L99.80 622.04 L101.81 621.74 L103.82 621.44 L105.83 621.15 L107.84 620.85 L109.86 620.55 L111.87 620.25 L113.88 619.95 L115.89 619.65 L117.90 619.36 L119.91 619.06 L121.92 618.76 L123.93 618.46 L125.94 618.16 L127.96 617.86 L129.97 617.57 L131.98 617.27 L133.99 616.97 L136.00 616.67 L138.01 616.37 L140.02 616.08 L142.03 615.78 L144.04 615.48 L146.06 615.18 L148.07 614.88 L150.08 614.58 L152.09 614.29 L154.10 613.99 L156.11 613.69 L158.12 613.39 L160.13 613.09 L162.14 612.80 L164.16 612.50 L166.17 612.20 L168.18 611.90 L170.19 611.60 L172.20 611.30 L174.21 611.01 L176.22 610.71 L178.23 610.41 L180.24 610.11 L182.26 609.81 L184.27 609.52 L186.28 609.22 L188.29 608.92 L190.30 608.62 L192.31 608.32 L194.32 608.02 L196.33 607.73 L198.34 607.43 L200.36 607.13 L202.37 606.83 L204.38 606.53 L206.39 606.24 L208.40 605.94 L210.41 605.64 L212.42 605.34 L214.43 605.04 L216.44 604.74 L218.46 604.45 L220.47 604.15 L222.48 603.85 L224.49 603.55 L226.50 603.25 L228.51 602.96 L230.52 602.66 L232.53 602.36 L234.54 602.06 L236.56 601.76 L238.57 601.46 L240.58 601.17 L242.59 600.87 L244.60 600.57 L246.61 600.27 L248.62 599.97 L250.63 599.67 L252.64 599.38 L254.66 599.08 L256.67 598.78 L258.68 598.48 L260.69 598.18 L262.70 597.89 L263.50 597.60 L261.49 599.93 L259.48 602.28 L257.47 604.65 L255.46 607.05 L253.45 609.54 L251.44 612.12 L249.43 614.65 L247.42 617.01 L245.41 619.09 L243.40 621.03 L241.39 622.87 L239.38 624.62 L237.37 626.30 L235.36 627.92 L233.35 629.48 L231.34 631.00 L229.33 632.50 L227.32 633.95 L225.31 635.35 L223.30 636.70 L221.29 638.02 L219.28 639.30 L217.27 640.57 L215.26 641.83 L213.25 643.08 L211.24 644.34 L209.23 645.61 L207.22 646.91 L205.21 648.22 L203.20 649.50 L201.19 650.72 L199.18 651.85 L197.17 652.91 L195.16 653.94 L193.15 654.92 L191.14 655.87 L189.13 656.80 L187.12 657.69 L185.11 658.57 L183.10 659.43 L181.10 660.30 L179.09 661.16 L177.08 662.01 L175.07 662.85 L173.06 663.67 L171.05 664.49 L169.04 665.28 L167.03 666.05 L165.02 666.79 L163.01 667.51 L161.00 668.19 L158.99 668.85 L156.98 669.47 L154.97 670.04 L152.96 670.59 L150.95 671.11 L148.94 671.60 L146.93 672.08 L144.92 672.55 L142.91 672.99 L140.90 673.43 L138.89 673.84 L136.88 674.25 L134.87 674.65 L132.86 675.04 L130.85 675.43 L128.84 675.80 L126.83 676.18 L124.82 676.55 L122.81 676.92 L120.80 677.30 L118.79 677.67 L116.78 678.05 L114.77 678.44 L112.76 678.82 L110.75 679.20 L108.74 679.57 L106.73 679.93 L104.72 680.29 L102.71 680.65 L100.70 681.00 L262.9 680 L262.9 687.3 Z" fill="#eff6fe"/>
<path d="M262.70 597.93 L264.71 597.59 L266.72 597.25 L268.72 596.91 L270.73 596.57 L272.74 596.23 L274.75 595.90 L276.76 595.56 L278.77 595.22 L280.77 594.89 L282.78 594.56 L284.79 594.22 L286.80 593.89 L288.81 593.56 L290.82 593.23 L292.82 592.90 L294.83 592.57 L296.84 592.24 L298.85 591.92 L300.86 591.59 L302.87 591.26 L304.87 590.94 L306.88 590.62 L308.89 590.29 L310.90 589.97 L312.91 589.65 L314.92 589.33 L316.92 589.01 L318.93 588.69 L320.94 588.37 L322.95 588.05 L324.96 587.74 L326.96 587.42 L328.97 587.11 L330.98 586.79 L332.99 586.48 L335.00 586.17 L337.01 585.85 L339.01 585.54 L341.02 585.23 L343.03 584.92 L345.04 584.62 L347.05 584.31 L349.06 584.00 L351.06 583.70 L353.07 583.39 L355.08 583.09 L357.09 582.78 L359.10 582.48 L361.11 582.18 L363.11 581.88 L365.12 581.58 L367.13 581.28 L369.14 580.98 L371.15 580.68 L373.16 580.38 L375.16 580.09 L377.17 579.79 L379.18 579.50 L381.19 579.20 L383.20 578.91 L385.21 578.62 L387.21 578.33 L389.22 578.04 L391.23 577.75 L393.24 577.46 L395.25 577.17 L397.25 576.88 L399.26 576.60 L401.27 576.31 L403.28 576.03 L405.29 575.74 L407.30 575.46 L409.30 575.18 L411.31 574.90 L413.32 574.62 L415.33 574.34 L417.34 574.06 L419.35 573.78 L421.35 573.50 L423.36 573.23 L425.37 572.95 L427.38 572.67 L429.39 572.40 L431.40 572.13 L433.40 571.85 L435.41 571.58 L437.42 571.31 L439.43 571.04 L441.44 570.77 L443.45 570.50 L445.45 570.24 L447.46 569.97 L449.47 569.70 L451.48 569.44 L453.49 569.17 L455.49 568.91 L457.50 568.65 L459.51 568.39 L461.52 568.13 L463.53 567.87 L465.54 567.61 L467.54 567.35 L469.55 567.09 L471.56 566.83 L473.57 566.58 L475.58 566.32 L477.59 566.07 L479.59 565.81 L481.60 565.56 L483.61 565.31 L485.62 565.06 L487.63 564.81 L489.64 564.56 L491.64 564.31 L493.65 564.06 L495.66 563.81 L497.67 563.57 L499.68 563.32 L501.69 563.08 L503.69 562.83 L505.70 562.59 L507.71 562.35 L509.72 562.10 L511.73 561.86 L513.74 561.62 L515.74 561.38 L517.75 561.15 L519.76 560.91 L521.77 560.67 L523.78 560.44 L525.78 560.20 L527.79 559.97 L529.80 559.73 L531.81 559.50 L533.82 559.27 L535.83 559.04 L537.83 558.81 L539.84 558.58 L541.85 558.35 L543.86 558.12 L545.87 557.90 L547.88 557.67 L549.88 557.45 L551.89 557.22 L553.90 557.00 L555.91 556.77 L557.92 556.55 L559.93 556.33 L561.93 556.11 L563.94 555.89 L565.95 555.67 L567.96 555.46 L569.97 555.24 L571.98 555.02 L573.98 554.81 L575.99 554.59 L578.00 554.38 L608.3 553.7 L877 553.7 L875.00 554.50 L873.00 557.81 L871.00 560.80 L869.00 563.29 L867.00 565.50 L865.00 567.50 L863.00 569.35 L861.00 571.07 L859.00 572.71 L857.00 574.29 L855.00 575.81 L853.00 577.27 L851.00 578.68 L849.00 580.03 L847.00 581.33 L845.00 582.58 L843.00 583.78 L841.00 584.94 L839.00 586.05 L837.00 587.13 L835.00 588.18 L833.00 589.20 L831.00 590.19 L829.00 591.15 L827.00 592.08 L825.00 592.99 L823.00 593.86 L821.00 594.71 L819.00 595.53 L817.00 596.32 L815.00 597.09 L813.00 597.81 L811.00 598.50 L809.00 599.15 L807.00 599.79 L805.00 600.42 L803.00 601.04 L801.00 601.68 L799.00 602.33 L797.00 602.98 L795.00 603.64 L793.00 604.30 L791.00 604.97 L789.00 605.63 L787.00 606.29 L785.00 606.96 L783.00 607.62 L781.00 608.29 L779.00 608.95 L777.00 609.61 L775.00 610.28 L773.00 610.94 L771.00 611.60 L769.00 612.25 L767.00 612.91 L765.00 613.56 L763.00 614.21 L761.00 614.85 L759.00 615.49 L757.00 616.13 L755.00 616.76 L753.00 617.39 L751.00 618.01 L749.00 618.63 L747.00 619.24 L745.00 619.85 L743.00 620.46 L741.00 621.07 L739.00 621.68 L737.00 622.29 L735.00 622.90 L733.00 623.51 L731.00 624.12 L729.00 624.73 L727.00 625.34 L725.00 625.95 L723.00 626.56 L721.00 627.16 L719.00 627.77 L717.00 628.37 L715.00 628.96 L713.00 629.55 L711.00 630.14 L709.00 630.72 L707.00 631.30 L705.00 631.87 L703.00 632.44 L701.00 633.00 L699.00 633.55 L697.00 634.10 L695.00 634.64 L693.00 635.17 L691.00 635.69 L689.00 636.20 L687.00 636.70 L685.00 637.20 L683.00 637.68 L681.00 638.16 L679.00 638.62 L677.00 639.07 L675.00 639.51 L673.00 639.94 L671.00 640.36 L669.00 640.78 L667.00 641.19 L665.00 641.59 L663.00 641.98 L661.00 642.37 L659.00 642.76 L657.00 643.13 L655.00 643.51 L653.00 643.87 L651.00 644.24 L649.00 644.60 L647.00 644.95 L645.00 645.30 L643.00 645.65 L641.00 645.99 L639.00 646.33 L637.00 646.67 L635.00 647.01 L633.00 647.34 L631.00 647.67 L629.00 648.00 L627.00 648.33 L625.00 648.66 L623.00 648.99 L621.00 649.31 L619.00 649.64 L617.00 649.97 L615.00 650.29 L613.00 650.62 L611.00 650.95 L609.00 651.28 L607.00 651.62 L605.00 651.95 L603.00 652.29 L601.00 652.63 L599.00 652.97 L597.00 653.32 L595.00 653.66 L593.00 654.01 L591.00 654.36 L589.00 654.71 L587.00 655.05 L585.00 655.40 L583.00 655.75 L581.00 656.10 L579.00 656.45 L577.00 656.80 L575.00 657.15 L573.00 657.50 L571.00 657.84 L569.00 658.18 L567.00 658.53 L565.00 658.87 L563.00 659.20 L561.00 659.54 L559.00 659.87 L557.00 660.20 L555.00 660.53 L553.00 660.85 L551.00 661.17 L549.00 661.49 L547.00 661.80 L545.00 662.11 L543.00 662.41 L541.00 662.71 L539.00 663.00 L537.00 663.29 L535.00 663.57 L533.00 663.85 L531.00 664.12 L529.00 664.40 L527.00 664.66 L525.00 664.93 L523.00 665.19 L521.00 665.45 L519.00 665.71 L517.00 665.96 L515.00 666.22 L513.00 666.47 L511.00 666.71 L509.00 666.96 L507.00 667.20 L505.00 667.45 L503.00 667.69 L501.00 667.92 L499.00 668.16 L497.00 668.40 L495.00 668.63 L493.00 668.86 L491.00 669.09 L489.00 669.33 L487.00 669.55 L485.00 669.78 L483.00 670.01 L481.00 670.24 L479.00 670.47 L477.00 670.69 L475.00 670.92 L473.00 671.15 L471.00 671.38 L469.00 671.60 L467.00 671.83 L465.00 672.06 L463.00 672.29 L461.00 672.52 L459.00 672.75 L457.00 672.98 L455.00 673.21 L453.00 673.44 L451.00 673.68 L449.00 673.91 L447.00 674.15 L445.00 674.38 L443.00 674.61 L441.00 674.84 L439.00 675.07 L437.00 675.30 L435.00 675.53 L433.00 675.76 L431.00 675.99 L429.00 676.21 L427.00 676.43 L425.00 676.65 L423.00 676.87 L421.00 677.08 L419.00 677.30 L417.00 677.50 L415.00 677.71 L413.00 677.91 L411.00 678.11 L409.00 678.30 L407.00 678.49 L405.00 678.68 L403.00 678.86 L401.00 679.04 L399.00 679.21 L397.00 679.38 L395.00 679.54 L393.00 679.70 L391.00 679.85 L389.00 680.01 L387.00 680.16 L385.00 680.31 L383.00 680.45 L381.00 680.59 L379.00 680.73 L377.00 680.87 L375.00 681.01 L373.00 681.14 L371.00 681.28 L369.00 681.41 L367.00 681.54 L365.00 681.66 L363.00 681.79 L361.00 681.92 L359.00 682.04 L357.00 682.16 L355.00 682.28 L353.00 682.40 L351.00 682.52 L349.00 682.64 L347.00 682.76 L345.00 682.87 L343.00 682.99 L341.00 683.11 L339.00 683.22 L337.00 683.34 L335.00 683.45 L333.00 683.57 L331.00 683.68 L329.00 683.80 L327.00 683.91 L325.00 684.03 L323.00 684.14 L321.00 684.26 L319.00 684.37 L317.00 684.49 L315.00 684.60 L313.00 684.71 L311.00 684.82 L309.00 684.93 L307.00 685.04 L305.00 685.15 L303.00 685.26 L301.00 685.37 L299.00 685.48 L297.00 685.59 L295.00 685.69 L293.00 685.80 L291.00 685.90 L289.00 686.01 L287.00 686.11 L285.00 686.21 L283.00 686.32 L281.00 686.42 L279.00 686.52 L277.00 686.62 L275.00 686.72 L273.00 686.82 L271.00 686.92 L269.00 687.01 L267.00 687.11 L265.00 687.20 L263.00 687.30 L262.9 679.9 L100.7 680.9 L100.70 681.00 L102.71 680.65 L104.72 680.29 L106.73 679.93 L108.74 679.57 L110.75 679.20 L112.76 678.82 L114.77 678.44 L116.78 678.05 L118.79 677.67 L120.80 677.30 L122.81 676.92 L124.82 676.55 L126.83 676.18 L128.84 675.80 L130.85 675.43 L132.86 675.04 L134.87 674.65 L136.88 674.25 L138.89 673.84 L140.90 673.43 L142.91 672.99 L144.92 672.55 L146.93 672.08 L148.94 671.60 L150.95 671.11 L152.96 670.59 L154.97 670.04 L156.98 669.47 L158.99 668.85 L161.00 668.19 L163.01 667.51 L165.02 666.79 L167.03 666.05 L169.04 665.28 L171.05 664.49 L173.06 663.67 L175.07 662.85 L177.08 662.01 L179.09 661.16 L181.10 660.30 L183.10 659.43 L185.11 658.57 L187.12 657.69 L189.13 656.80 L191.14 655.87 L193.15 654.92 L195.16 653.94 L197.17 652.91 L199.18 651.85 L201.19 650.72 L203.20 649.50 L205.21 648.22 L207.22 646.91 L209.23 645.61 L211.24 644.34 L213.25 643.08 L215.26 641.83 L217.27 640.57 L219.28 639.30 L221.29 638.02 L223.30 636.70 L225.31 635.35 L227.32 633.95 L229.33 632.50 L231.34 631.00 L233.35 629.48 L235.36 627.92 L237.37 626.30 L239.38 624.62 L241.39 622.87 L243.40 621.03 L245.41 619.09 L247.42 617.01 L249.43 614.65 L251.44 612.12 L253.45 609.54 L255.46 607.05 L257.47 604.65 L259.48 602.28 L261.49 599.93 L263.50 597.60 Z" fill="#d0dce8"/>
<path d="M115.5 521 L115.5 687 M185.5 521 L185.5 687 M255.5 521 L255.5 687 M325.5 521 L325.5 687 M395.5 521 L395.5 687 M465.5 521 L465.5 687 M535.5 521 L535.5 687 M605.5 521 L605.5 687 M675.5 521 L675.5 687 M745.5 521 L745.5 687 M815.5 521 L815.5 687 M885.5 521 L885.5 687 M955.5 521 L955.5 687 M46 562.40 L958 562.40 M46 604.10 L958 604.10 M46 645.70 L958 645.70" stroke="#c9cdd2" stroke-width="1" fill="none"/>
<path d="M45.50 630.09 L47.51 629.79 L49.52 629.49 L51.53 629.20 L53.54 628.90 L55.56 628.60 L57.57 628.30 L59.58 628.00 L61.59 627.71 L63.60 627.41 L65.61 627.11 L67.62 626.81 L69.63 626.51 L71.64 626.21 L73.66 625.92 L75.67 625.62 L77.68 625.32 L79.69 625.02 L81.70 624.72 L83.71 624.43 L85.72 624.13 L87.73 623.83 L89.74 623.53 L91.76 623.23 L93.77 622.93 L95.78 622.64 L97.79 622.34 L99.80 622.04 L101.81 621.74 L103.82 621.44 L105.83 621.15 L107.84 620.85 L109.86 620.55 L111.87 620.25 L113.88 619.95 L115.89 619.65 L117.90 619.36 L119.91 619.06 L121.92 618.76 L123.93 618.46 L125.94 618.16 L127.96 617.86 L129.97 617.57 L131.98 617.27 L133.99 616.97 L136.00 616.67 L138.01 616.37 L140.02 616.08 L142.03 615.78 L144.04 615.48 L146.06 615.18 L148.07 614.88 L150.08 614.58 L152.09 614.29 L154.10 613.99 L156.11 613.69 L158.12 613.39 L160.13 613.09 L162.14 612.80 L164.16 612.50 L166.17 612.20 L168.18 611.90 L170.19 611.60 L172.20 611.30 L174.21 611.01 L176.22 610.71 L178.23 610.41 L180.24 610.11 L182.26 609.81 L184.27 609.52 L186.28 609.22 L188.29 608.92 L190.30 608.62 L192.31 608.32 L194.32 608.02 L196.33 607.73 L198.34 607.43 L200.36 607.13 L202.37 606.83 L204.38 606.53 L206.39 606.24 L208.40 605.94 L210.41 605.64 L212.42 605.34 L214.43 605.04 L216.44 604.74 L218.46 604.45 L220.47 604.15 L222.48 603.85 L224.49 603.55 L226.50 603.25 L228.51 602.96 L230.52 602.66 L232.53 602.36 L234.54 602.06 L236.56 601.76 L238.57 601.46 L240.58 601.17 L242.59 600.87 L244.60 600.57 L246.61 600.27 L248.62 599.97 L250.63 599.67 L252.64 599.38 L254.66 599.08 L256.67 598.78 L258.68 598.48 L260.69 598.18 L262.70 597.89" stroke="#9fadc2" stroke-width="3" fill="none"/>
<path d="M45.50 629.29 L47.51 628.99 L49.52 628.69 L51.53 628.40 L53.54 628.10 L55.56 627.80 L57.57 627.50 L59.58 627.20 L61.59 626.91 L63.60 626.61 L65.61 626.31 L67.62 626.01 L69.63 625.71 L71.64 625.41 L73.66 625.12 L75.67 624.82 L77.68 624.52 L79.69 624.22 L81.70 623.92 L83.71 623.63 L85.72 623.33 L87.73 623.03 L89.74 622.73 L91.76 622.43 L93.77 622.13 L95.78 621.84 L97.79 621.54 L99.80 621.24 L101.81 620.94 L103.82 620.64 L105.83 620.35 L107.84 620.05 L109.86 619.75 L111.87 619.45 L113.88 619.15 L115.89 618.85 L117.90 618.56 L119.91 618.26 L121.92 617.96 L123.93 617.66 L125.94 617.36 L127.96 617.06 L129.97 616.77 L131.98 616.47 L133.99 616.17 L136.00 615.87 L138.01 615.57 L140.02 615.28 L142.03 614.98 L144.04 614.68 L146.06 614.38 L148.07 614.08 L150.08 613.78 L152.09 613.49 L154.10 613.19 L156.11 612.89 L158.12 612.59 L160.13 612.29 L162.14 612.00 L164.16 611.70 L166.17 611.40 L168.18 611.10 L170.19 610.80 L172.20 610.50 L174.21 610.21 L176.22 609.91 L178.23 609.61 L180.24 609.31 L182.26 609.01 L184.27 608.72 L186.28 608.42 L188.29 608.12 L190.30 607.82 L192.31 607.52 L194.32 607.22 L196.33 606.93 L198.34 606.63 L200.36 606.33 L202.37 606.03 L204.38 605.73 L206.39 605.44 L208.40 605.14 L210.41 604.84 L212.42 604.54 L214.43 604.24 L216.44 603.94 L218.46 603.65 L220.47 603.35 L222.48 603.05 L224.49 602.75 L226.50 602.45 L228.51 602.16 L230.52 601.86 L232.53 601.56 L234.54 601.26 L236.56 600.96 L238.57 600.66 L240.58 600.37 L242.59 600.07 L244.60 599.77 L246.61 599.47 L248.62 599.17 L250.63 598.87 L252.64 598.58 L254.66 598.28 L256.67 597.98 L258.68 597.68 L260.69 597.38 L262.70 597.09" stroke="#0b4a8a" stroke-width="1.4" fill="none" stroke-dasharray="1.8 4.6"/>
<path d="M45.50 630.89 L47.51 630.59 L49.52 630.29 L51.53 630.00 L53.54 629.70 L55.56 629.40 L57.57 629.10 L59.58 628.80 L61.59 628.51 L63.60 628.21 L65.61 627.91 L67.62 627.61 L69.63 627.31 L71.64 627.01 L73.66 626.72 L75.67 626.42 L77.68 626.12 L79.69 625.82 L81.70 625.52 L83.71 625.23 L85.72 624.93 L87.73 624.63 L89.74 624.33 L91.76 624.03 L93.77 623.73 L95.78 623.44 L97.79 623.14 L99.80 622.84 L101.81 622.54 L103.82 622.24 L105.83 621.95 L107.84 621.65 L109.86 621.35 L111.87 621.05 L113.88 620.75 L115.89 620.45 L117.90 620.16 L119.91 619.86 L121.92 619.56 L123.93 619.26 L125.94 618.96 L127.96 618.66 L129.97 618.37 L131.98 618.07 L133.99 617.77 L136.00 617.47 L138.01 617.17 L140.02 616.88 L142.03 616.58 L144.04 616.28 L146.06 615.98 L148.07 615.68 L150.08 615.38 L152.09 615.09 L154.10 614.79 L156.11 614.49 L158.12 614.19 L160.13 613.89 L162.14 613.60 L164.16 613.30 L166.17 613.00 L168.18 612.70 L170.19 612.40 L172.20 612.10 L174.21 611.81 L176.22 611.51 L178.23 611.21 L180.24 610.91 L182.26 610.61 L184.27 610.32 L186.28 610.02 L188.29 609.72 L190.30 609.42 L192.31 609.12 L194.32 608.82 L196.33 608.53 L198.34 608.23 L200.36 607.93 L202.37 607.63 L204.38 607.33 L206.39 607.04 L208.40 606.74 L210.41 606.44 L212.42 606.14 L214.43 605.84 L216.44 605.54 L218.46 605.25 L220.47 604.95 L222.48 604.65 L224.49 604.35 L226.50 604.05 L228.51 603.76 L230.52 603.46 L232.53 603.16 L234.54 602.86 L236.56 602.56 L238.57 602.26 L240.58 601.97 L242.59 601.67 L244.60 601.37 L246.61 601.07 L248.62 600.77 L250.63 600.47 L252.64 600.18 L254.66 599.88 L256.67 599.58 L258.68 599.28 L260.69 598.98 L262.70 598.69" stroke="#0b4a8a" stroke-width="1.4" fill="none" stroke-dasharray="1.8 4.6" stroke-dashoffset="3.2"/>
<path d="M45.50 644.89 L47.51 644.60 L49.52 644.32 L51.53 644.03 L53.54 643.75 L55.56 643.46 L57.57 643.17 L59.58 642.89 L61.59 642.60 L63.60 642.31 L65.61 642.03 L67.62 641.74 L69.63 641.46 L71.64 641.17 L73.66 640.88 L75.67 640.60 L77.68 640.31 L79.69 640.02 L81.70 639.74 L83.71 639.45 L85.72 639.17 L87.73 638.88 L89.74 638.59 L91.76 638.31 L93.77 638.02 L95.78 637.73 L97.79 637.45 L99.80 637.16 L101.81 636.88 L103.82 636.59 L105.83 636.30 L107.84 636.02 L109.86 635.73 L111.87 635.44 L113.88 635.16 L115.89 634.87 L117.90 634.59 L119.91 634.30 L121.92 634.01 L123.93 633.73 L125.94 633.44 L127.96 633.15 L129.97 632.87 L131.98 632.58 L133.99 632.30 L136.00 632.01 L138.01 631.72 L140.02 631.44 L142.03 631.15 L144.04 630.86 L146.06 630.58 L148.07 630.29 L150.08 630.01 L152.09 629.72 L154.10 629.43 L156.11 629.15 L158.12 628.86 L160.13 628.57 L162.14 628.29 L164.16 628.00 L166.17 627.72 L168.18 627.43 L170.19 627.14 L172.20 626.86 L174.21 626.57 L176.22 626.29 L178.23 626.00 L180.24 625.71 L182.26 625.43 L184.27 625.14 L186.28 624.85 L188.29 624.57 L190.30 624.28 L192.31 624.00 L194.32 623.71 L196.33 623.42 L198.34 623.14 L200.36 622.85 L202.37 622.56 L204.38 622.28 L206.39 621.99 L208.40 621.71 L210.41 621.42 L212.42 621.13 L214.43 620.85 L216.44 620.56 L218.46 620.27 L220.47 619.99 L222.48 619.70 L224.49 619.42 L226.50 619.13 L228.51 618.84 L230.52 618.56 L232.53 618.27 L234.54 617.98 L236.56 617.70 L238.57 617.41 L240.58 617.13 L242.59 616.84 L244.60 616.55 L246.61 616.27 L248.62 615.98 L250.63 615.69 L252.64 615.41 L254.66 615.12 L256.67 614.84 L258.68 614.55 L260.69 614.26 L262.70 613.98" stroke="#9fadc2" stroke-width="3" fill="none"/>
<path d="M45.50 644.09 L47.51 643.80 L49.52 643.52 L51.53 643.23 L53.54 642.95 L55.56 642.66 L57.57 642.37 L59.58 642.09 L61.59 641.80 L63.60 641.51 L65.61 641.23 L67.62 640.94 L69.63 640.66 L71.64 640.37 L73.66 640.08 L75.67 639.80 L77.68 639.51 L79.69 639.22 L81.70 638.94 L83.71 638.65 L85.72 638.37 L87.73 638.08 L89.74 637.79 L91.76 637.51 L93.77 637.22 L95.78 636.93 L97.79 636.65 L99.80 636.36 L101.81 636.08 L103.82 635.79 L105.83 635.50 L107.84 635.22 L109.86 634.93 L111.87 634.64 L113.88 634.36 L115.89 634.07 L117.90 633.79 L119.91 633.50 L121.92 633.21 L123.93 632.93 L125.94 632.64 L127.96 632.35 L129.97 632.07 L131.98 631.78 L133.99 631.50 L136.00 631.21 L138.01 630.92 L140.02 630.64 L142.03 630.35 L144.04 630.06 L146.06 629.78 L148.07 629.49 L150.08 629.21 L152.09 628.92 L154.10 628.63 L156.11 628.35 L158.12 628.06 L160.13 627.77 L162.14 627.49 L164.16 627.20 L166.17 626.92 L168.18 626.63 L170.19 626.34 L172.20 626.06 L174.21 625.77 L176.22 625.49 L178.23 625.20 L180.24 624.91 L182.26 624.63 L184.27 624.34 L186.28 624.05 L188.29 623.77 L190.30 623.48 L192.31 623.20 L194.32 622.91 L196.33 622.62 L198.34 622.34 L200.36 622.05 L202.37 621.76 L204.38 621.48 L206.39 621.19 L208.40 620.91 L210.41 620.62 L212.42 620.33 L214.43 620.05 L216.44 619.76 L218.46 619.47 L220.47 619.19 L222.48 618.90 L224.49 618.62 L226.50 618.33 L228.51 618.04 L230.52 617.76 L232.53 617.47 L234.54 617.18 L236.56 616.90 L238.57 616.61 L240.58 616.33 L242.59 616.04 L244.60 615.75 L246.61 615.47 L248.62 615.18 L250.63 614.89 L252.64 614.61 L254.66 614.32 L256.67 614.04 L258.68 613.75 L260.69 613.46 L262.70 613.18" stroke="#0b4a8a" stroke-width="1.4" fill="none" stroke-dasharray="1.8 4.6"/>
<path d="M45.50 645.69 L47.51 645.40 L49.52 645.12 L51.53 644.83 L53.54 644.55 L55.56 644.26 L57.57 643.97 L59.58 643.69 L61.59 643.40 L63.60 643.11 L65.61 642.83 L67.62 642.54 L69.63 642.26 L71.64 641.97 L73.66 641.68 L75.67 641.40 L77.68 641.11 L79.69 640.82 L81.70 640.54 L83.71 640.25 L85.72 639.97 L87.73 639.68 L89.74 639.39 L91.76 639.11 L93.77 638.82 L95.78 638.53 L97.79 638.25 L99.80 637.96 L101.81 637.68 L103.82 637.39 L105.83 637.10 L107.84 636.82 L109.86 636.53 L111.87 636.24 L113.88 635.96 L115.89 635.67 L117.90 635.39 L119.91 635.10 L121.92 634.81 L123.93 634.53 L125.94 634.24 L127.96 633.95 L129.97 633.67 L131.98 633.38 L133.99 633.10 L136.00 632.81 L138.01 632.52 L140.02 632.24 L142.03 631.95 L144.04 631.66 L146.06 631.38 L148.07 631.09 L150.08 630.81 L152.09 630.52 L154.10 630.23 L156.11 629.95 L158.12 629.66 L160.13 629.37 L162.14 629.09 L164.16 628.80 L166.17 628.52 L168.18 628.23 L170.19 627.94 L172.20 627.66 L174.21 627.37 L176.22 627.09 L178.23 626.80 L180.24 626.51 L182.26 626.23 L184.27 625.94 L186.28 625.65 L188.29 625.37 L190.30 625.08 L192.31 624.80 L194.32 624.51 L196.33 624.22 L198.34 623.94 L200.36 623.65 L202.37 623.36 L204.38 623.08 L206.39 622.79 L208.40 622.51 L210.41 622.22 L212.42 621.93 L214.43 621.65 L216.44 621.36 L218.46 621.07 L220.47 620.79 L222.48 620.50 L224.49 620.22 L226.50 619.93 L228.51 619.64 L230.52 619.36 L232.53 619.07 L234.54 618.78 L236.56 618.50 L238.57 618.21 L240.58 617.93 L242.59 617.64 L244.60 617.35 L246.61 617.07 L248.62 616.78 L250.63 616.49 L252.64 616.21 L254.66 615.92 L256.67 615.64 L258.68 615.35 L260.69 615.06 L262.70 614.78" stroke="#0b4a8a" stroke-width="1.4" fill="none" stroke-dasharray="1.8 4.6" stroke-dashoffset="3.2"/>
<path d="M45.5 670.2 L262.9 670.3" stroke="#000" stroke-width="1.4" fill="none"/>
<path d="M45.5 681.5 L100.7 681.2" stroke="#5a7aa0" stroke-width="1.3" fill="none"/>
<path d="M100.7 680.9 L262.9 679.9" stroke="#0b4a8a" stroke-width="2.6" fill="none" stroke-linecap="round"/>
<path d="M100.7 686.5 L262.9 684.8" stroke="#000" stroke-width="2.4" fill="none" stroke-linecap="round"/>
<path d="M262.70 598.23 L264.71 597.89 L266.72 597.55 L268.72 597.21 L270.73 596.87 L272.74 596.53 L274.75 596.20 L276.76 595.86 L278.77 595.52 L280.77 595.19 L282.78 594.86 L284.79 594.52 L286.80 594.19 L288.81 593.86 L290.82 593.53 L292.82 593.20 L294.83 592.87 L296.84 592.54 L298.85 592.22 L300.86 591.89 L302.87 591.56 L304.87 591.24 L306.88 590.92 L308.89 590.59 L310.90 590.27 L312.91 589.95 L314.92 589.63 L316.92 589.31 L318.93 588.99 L320.94 588.67 L322.95 588.35 L324.96 588.04 L326.96 587.72 L328.97 587.41 L330.98 587.09 L332.99 586.78 L335.00 586.47 L337.01 586.15 L339.01 585.84 L341.02 585.53 L343.03 585.22 L345.04 584.92 L347.05 584.61 L349.06 584.30 L351.06 584.00 L353.07 583.69 L355.08 583.39 L357.09 583.08 L359.10 582.78 L361.11 582.48 L363.11 582.18 L365.12 581.88 L367.13 581.58 L369.14 581.28 L371.15 580.98 L373.16 580.68 L375.16 580.39 L377.17 580.09 L379.18 579.80 L381.19 579.50 L383.20 579.21 L385.21 578.92 L387.21 578.63 L389.22 578.34 L391.23 578.05 L393.24 577.76 L395.25 577.47 L397.25 577.18 L399.26 576.90 L401.27 576.61 L403.28 576.33 L405.29 576.04 L407.30 575.76 L409.30 575.48 L411.31 575.20 L413.32 574.92 L415.33 574.64 L417.34 574.36 L419.35 574.08 L421.35 573.80 L423.36 573.53 L425.37 573.25 L427.38 572.97 L429.39 572.70 L431.40 572.43 L433.40 572.15 L435.41 571.88 L437.42 571.61 L439.43 571.34 L441.44 571.07 L443.45 570.80 L445.45 570.54 L447.46 570.27 L449.47 570.00 L451.48 569.74 L453.49 569.47 L455.49 569.21 L457.50 568.95 L459.51 568.69 L461.52 568.43 L463.53 568.17 L465.54 567.91 L467.54 567.65 L469.55 567.39 L471.56 567.13 L473.57 566.88 L475.58 566.62 L477.59 566.37 L479.59 566.11 L481.60 565.86 L483.61 565.61 L485.62 565.36 L487.63 565.11 L489.64 564.86 L491.64 564.61 L493.65 564.36 L495.66 564.11 L497.67 563.87 L499.68 563.62 L501.69 563.38 L503.69 563.13 L505.70 562.89 L507.71 562.65 L509.72 562.40 L511.73 562.16 L513.74 561.92 L515.74 561.68 L517.75 561.45 L519.76 561.21 L521.77 560.97 L523.78 560.74 L525.78 560.50 L527.79 560.27 L529.80 560.03 L531.81 559.80 L533.82 559.57 L535.83 559.34 L537.83 559.11 L539.84 558.88 L541.85 558.65 L543.86 558.42 L545.87 558.20 L547.88 557.97 L549.88 557.75 L551.89 557.52 L553.90 557.30 L555.91 557.07 L557.92 556.85 L559.93 556.63 L561.93 556.41 L563.94 556.19 L565.95 555.97 L567.96 555.76 L569.97 555.54 L571.98 555.32 L573.98 555.11 L575.99 554.89 L578.00 554.68" stroke="#0b4a8a" stroke-width="5" fill="none" stroke-linecap="round"/>
<path d="M577 554.3 L608.3 553.7 L877 553.7" stroke="#0b4a8a" stroke-width="4" fill="none" stroke-linecap="round"/>
<path d="M262.70 612.57 L264.71 612.25 L266.72 611.93 L268.72 611.61 L270.73 611.29 L272.74 610.97 L274.75 610.66 L276.76 610.34 L278.77 610.03 L280.77 609.71 L282.78 609.40 L284.79 609.09 L286.80 608.78 L288.81 608.47 L290.82 608.16 L292.82 607.85 L294.83 607.54 L296.84 607.24 L298.85 606.93 L300.86 606.63 L302.87 606.32 L304.87 606.02 L306.88 605.72 L308.89 605.42 L310.90 605.12 L312.91 604.82 L314.92 604.52 L316.92 604.22 L318.93 603.93 L320.94 603.63 L322.95 603.34 L324.96 603.04 L326.96 602.75 L328.97 602.46 L330.98 602.17 L332.99 601.88 L335.00 601.59 L337.01 601.30 L339.01 601.02 L341.02 600.73 L343.03 600.45 L345.04 600.16 L347.05 599.88 L349.06 599.60 L351.06 599.32 L353.07 599.04 L355.08 598.76 L357.09 598.48 L359.10 598.20 L361.11 597.92 L363.11 597.65 L365.12 597.37 L367.13 597.10 L369.14 596.83 L371.15 596.55 L373.16 596.28 L375.16 596.01 L377.17 595.74 L379.18 595.48 L381.19 595.21 L383.20 594.94 L385.21 594.68 L387.21 594.41 L389.22 594.15 L391.23 593.89 L393.24 593.62 L395.25 593.36 L397.25 593.10 L399.26 592.84 L401.27 592.59 L403.28 592.33 L405.29 592.07 L407.30 591.82 L409.30 591.56 L411.31 591.31 L413.32 591.06 L415.33 590.81 L417.34 590.56 L419.35 590.31 L421.35 590.06 L423.36 589.81 L425.37 589.56 L427.38 589.32 L429.39 589.07 L431.40 588.83 L433.40 588.58 L435.41 588.34 L437.42 588.10 L439.43 587.86 L441.44 587.62 L443.45 587.38 L445.45 587.14 L447.46 586.91 L449.47 586.67 L451.48 586.44 L453.49 586.20 L455.49 585.97 L457.50 585.74 L459.51 585.51 L461.52 585.28 L463.53 585.05 L465.54 584.82 L467.54 584.59 L469.55 584.36 L471.56 584.14 L473.57 583.91 L475.58 583.69 L477.59 583.47 L479.59 583.25 L481.60 583.03 L483.61 582.81 L485.62 582.59 L487.63 582.37 L489.64 582.15 L491.64 581.93 L493.65 581.72 L495.66 581.50 L497.67 581.29 L499.68 581.08 L501.69 580.87 L503.69 580.66 L505.70 580.45 L507.71 580.24 L509.72 580.03 L511.73 579.82 L513.74 579.62 L515.74 579.41 L517.75 579.21 L519.76 579.00 L521.77 578.80 L523.78 578.60 L525.78 578.40 L527.79 578.20 L529.80 578.00 L531.81 577.80 L533.82 577.61 L535.83 577.41 L537.83 577.22 L539.84 577.02 L541.85 576.83 L543.86 576.64 L545.87 576.45 L547.88 576.26 L549.88 576.07 L551.89 575.88 L553.90 575.69 L555.91 575.50 L557.92 575.32 L559.93 575.13 L561.93 574.95 L563.94 574.77 L565.95 574.58 L567.96 574.40 L569.97 574.22 L571.98 574.04 L573.98 573.87 L575.99 573.69 L578.00 573.51" stroke="#9eabbd" stroke-width="1.6" fill="none"/>
<path d="M262.70 612.57 L264.71 612.25 L266.72 611.93 L268.72 611.61 L270.73 611.29 L272.74 610.97 L274.75 610.66 L276.76 610.34 L278.77 610.03 L280.77 609.71 L282.78 609.40 L284.79 609.09 L286.80 608.78 L288.81 608.47 L290.82 608.16 L292.82 607.85 L294.83 607.54 L296.84 607.24 L298.85 606.93 L300.86 606.63 L302.87 606.32 L304.87 606.02 L306.88 605.72 L308.89 605.42 L310.90 605.12 L312.91 604.82 L314.92 604.52 L316.92 604.22 L318.93 603.93 L320.94 603.63 L322.95 603.34 L324.96 603.04 L326.96 602.75 L328.97 602.46 L330.98 602.17 L332.99 601.88 L335.00 601.59 L337.01 601.30 L339.01 601.02 L341.02 600.73 L343.03 600.45 L345.04 600.16 L347.05 599.88 L349.06 599.60 L351.06 599.32 L353.07 599.04 L355.08 598.76 L357.09 598.48 L359.10 598.20 L361.11 597.92 L363.11 597.65 L365.12 597.37 L367.13 597.10 L369.14 596.83 L371.15 596.55 L373.16 596.28 L375.16 596.01 L377.17 595.74 L379.18 595.48 L381.19 595.21 L383.20 594.94 L385.21 594.68 L387.21 594.41 L389.22 594.15 L391.23 593.89 L393.24 593.62 L395.25 593.36 L397.25 593.10 L399.26 592.84 L401.27 592.59 L403.28 592.33 L405.29 592.07 L407.30 591.82 L409.30 591.56 L411.31 591.31 L413.32 591.06 L415.33 590.81 L417.34 590.56 L419.35 590.31 L421.35 590.06 L423.36 589.81 L425.37 589.56 L427.38 589.32 L429.39 589.07 L431.40 588.83 L433.40 588.58 L435.41 588.34 L437.42 588.10 L439.43 587.86 L441.44 587.62 L443.45 587.38 L445.45 587.14 L447.46 586.91 L449.47 586.67 L451.48 586.44 L453.49 586.20 L455.49 585.97 L457.50 585.74 L459.51 585.51 L461.52 585.28 L463.53 585.05 L465.54 584.82 L467.54 584.59 L469.55 584.36 L471.56 584.14 L473.57 583.91 L475.58 583.69 L477.59 583.47 L479.59 583.25 L481.60 583.03 L483.61 582.81 L485.62 582.59 L487.63 582.37 L489.64 582.15 L491.64 581.93 L493.65 581.72 L495.66 581.50 L497.67 581.29 L499.68 581.08 L501.69 580.87 L503.69 580.66 L505.70 580.45 L507.71 580.24 L509.72 580.03 L511.73 579.82 L513.74 579.62 L515.74 579.41 L517.75 579.21 L519.76 579.00 L521.77 578.80 L523.78 578.60 L525.78 578.40 L527.79 578.20 L529.80 578.00 L531.81 577.80 L533.82 577.61 L535.83 577.41 L537.83 577.22 L539.84 577.02 L541.85 576.83 L543.86 576.64 L545.87 576.45 L547.88 576.26 L549.88 576.07 L551.89 575.88 L553.90 575.69 L555.91 575.50 L557.92 575.32 L559.93 575.13 L561.93 574.95 L563.94 574.77 L565.95 574.58 L567.96 574.40 L569.97 574.22 L571.98 574.04 L573.98 573.87 L575.99 573.69 L578.00 573.51" stroke="#0b4a8a" stroke-width="1.6" fill="none" stroke-dasharray="3 3"/>
<path d="M262.70 614.17 L264.71 613.85 L266.72 613.53 L268.72 613.21 L270.73 612.89 L272.74 612.57 L274.75 612.26 L276.76 611.94 L278.77 611.63 L280.77 611.31 L282.78 611.00 L284.79 610.69 L286.80 610.38 L288.81 610.07 L290.82 609.76 L292.82 609.45 L294.83 609.14 L296.84 608.84 L298.85 608.53 L300.86 608.23 L302.87 607.92 L304.87 607.62 L306.88 607.32 L308.89 607.02 L310.90 606.72 L312.91 606.42 L314.92 606.12 L316.92 605.82 L318.93 605.53 L320.94 605.23 L322.95 604.94 L324.96 604.64 L326.96 604.35 L328.97 604.06 L330.98 603.77 L332.99 603.48 L335.00 603.19 L337.01 602.90 L339.01 602.62 L341.02 602.33 L343.03 602.05 L345.04 601.76 L347.05 601.48 L349.06 601.20 L351.06 600.92 L353.07 600.64 L355.08 600.36 L357.09 600.08 L359.10 599.80 L361.11 599.52 L363.11 599.25 L365.12 598.97 L367.13 598.70 L369.14 598.43 L371.15 598.15 L373.16 597.88 L375.16 597.61 L377.17 597.34 L379.18 597.08 L381.19 596.81 L383.20 596.54 L385.21 596.28 L387.21 596.01 L389.22 595.75 L391.23 595.49 L393.24 595.22 L395.25 594.96 L397.25 594.70 L399.26 594.44 L401.27 594.19 L403.28 593.93 L405.29 593.67 L407.30 593.42 L409.30 593.16 L411.31 592.91 L413.32 592.66 L415.33 592.41 L417.34 592.16 L419.35 591.91 L421.35 591.66 L423.36 591.41 L425.37 591.16 L427.38 590.92 L429.39 590.67 L431.40 590.43 L433.40 590.18 L435.41 589.94 L437.42 589.70 L439.43 589.46 L441.44 589.22 L443.45 588.98 L445.45 588.74 L447.46 588.51 L449.47 588.27 L451.48 588.04 L453.49 587.80 L455.49 587.57 L457.50 587.34 L459.51 587.11 L461.52 586.88 L463.53 586.65 L465.54 586.42 L467.54 586.19 L469.55 585.96 L471.56 585.74 L473.57 585.51 L475.58 585.29 L477.59 585.07 L479.59 584.85 L481.60 584.63 L483.61 584.41 L485.62 584.19 L487.63 583.97 L489.64 583.75 L491.64 583.53 L493.65 583.32 L495.66 583.10 L497.67 582.89 L499.68 582.68 L501.69 582.47 L503.69 582.26 L505.70 582.05 L507.71 581.84 L509.72 581.63 L511.73 581.42 L513.74 581.22 L515.74 581.01 L517.75 580.81 L519.76 580.60 L521.77 580.40 L523.78 580.20 L525.78 580.00 L527.79 579.80 L529.80 579.60 L531.81 579.40 L533.82 579.21 L535.83 579.01 L537.83 578.82 L539.84 578.62 L541.85 578.43 L543.86 578.24 L545.87 578.05 L547.88 577.86 L549.88 577.67 L551.89 577.48 L553.90 577.29 L555.91 577.10 L557.92 576.92 L559.93 576.73 L561.93 576.55 L563.94 576.37 L565.95 576.18 L567.96 576.00 L569.97 575.82 L571.98 575.64 L573.98 575.47 L575.99 575.29 L578.00 575.11 L608.3 573.2 L877 573.2" stroke="#0b4a8a" stroke-width="2.2" fill="none" stroke-linecap="round"/>
<path d="M262.90 670.29 L264.90 670.28 L266.91 670.27 L268.91 670.26 L270.91 670.25 L272.92 670.24 L274.92 670.23 L276.93 670.22 L278.93 670.21 L280.93 670.20 L282.94 670.19 L284.94 670.18 L286.94 670.17 L288.95 670.16 L290.95 670.15 L292.95 670.14 L294.96 670.14 L296.96 670.13 L298.96 670.12 L300.97 670.12 L302.97 670.11 L304.98 670.10 L306.98 670.10 L308.98 670.09 L310.99 670.08 L312.99 670.08 L314.99 670.07 L317.00 670.07 L319.00 670.06 L321.00 670.05 L323.01 670.05 L325.01 670.04 L327.02 670.04 L329.02 670.03 L331.02 670.03 L333.03 670.02 L335.03 670.02 L337.03 670.01 L339.04 670.01 L341.04 670.00 L343.04 670.00 L345.05 669.99 L347.05 669.99 L349.05 669.98 L351.06 669.98 L353.06 669.97 L355.07 669.97 L357.07 669.96 L359.07 669.96 L361.08 669.95 L363.08 669.95 L365.08 669.94 L367.09 669.94 L369.09 669.93 L371.09 669.93 L373.10 669.92 L375.10 669.92 L377.10 669.91 L379.11 669.90 L381.11 669.90 L383.12 669.89 L385.12 669.89 L387.12 669.88 L389.13 669.87 L391.13 669.86 L393.13 669.86 L395.14 669.85 L397.14 669.84 L399.14 669.83 L401.15 669.83 L403.15 669.82 L405.16 669.81 L407.16 669.80 L409.16 669.79 L411.17 669.78 L413.17 669.77 L415.17 669.76 L417.18 669.75 L419.18 669.74 L421.18 669.73 L423.19 669.72 L425.19 669.70 L427.19 669.69 L429.20 669.68 L431.20 669.67 L433.21 669.65 L435.21 669.64 L437.21 669.62 L439.22 669.61 L441.22 669.59 L443.22 669.58 L445.23 669.56 L447.23 669.55 L449.23 669.53 L451.24 669.51 L453.24 669.49 L455.25 669.48 L457.25 669.46 L459.25 669.44 L461.26 669.42 L463.26 669.40 L465.26 669.38 L467.27 669.36 L469.27 669.33 L471.27 669.31 L473.28 669.29 L475.28 669.26 L477.28 669.24 L479.29 669.21 L481.29 669.19 L483.30 669.16 L485.30 669.14 L487.30 669.11 L489.31 669.08 L491.31 669.05 L493.31 669.02 L495.32 668.99 L497.32 668.96 L499.32 668.93 L501.33 668.90 L503.33 668.87 L505.33 668.83 L507.34 668.80 L509.34 668.76 L511.35 668.73 L513.35 668.69 L515.35 668.65 L517.36 668.62 L519.36 668.58 L521.36 668.54 L523.37 668.50 L525.37 668.46 L527.37 668.41 L529.38 668.37 L531.38 668.33 L533.39 668.28 L535.39 668.24 L537.39 668.19 L539.40 668.15 L541.40 668.10 L543.40 668.05 L545.41 668.00 L547.41 667.95 L549.41 667.90 L551.42 667.84 L553.42 667.79 L555.42 667.74 L557.43 667.68 L559.43 667.63 L561.44 667.57 L563.44 667.51 L565.44 667.45 L567.45 667.39 L569.45 667.33 L571.45 667.27 L573.46 667.20 L575.46 667.14 L577.46 667.07 L579.47 667.01 L581.47 666.94 L583.48 666.87 L585.48 666.80 L587.48 666.73 L589.49 666.66 L591.49 666.59 L593.49 666.51 L595.50 666.44 L597.50 666.36 L599.50 666.29 L601.51 666.21 L603.51 666.13 L605.51 666.05 L607.52 665.96 L609.52 665.88 L611.53 665.80 L613.53 665.71 L615.53 665.63 L617.54 665.54 L619.54 665.45 L621.54 665.36 L623.55 665.27 L625.55 665.17 L627.55 665.08 L629.56 664.98 L631.56 664.89 L633.57 664.79 L635.57 664.69 L637.57 664.59 L639.58 664.49 L641.58 664.38 L643.58 664.28 L645.59 664.17 L647.59 664.07 L649.59 663.96 L651.60 663.85 L653.60 663.73 L655.60 663.62 L657.61 663.51 L659.61 663.39 L661.62 663.27 L663.62 663.16 L665.62 663.04 L667.63 662.91 L669.63 662.79 L671.63 662.67 L673.64 662.54 L675.64 662.41 L677.64 662.29 L679.65 662.16 L681.65 662.02 L683.65 661.89 L685.66 661.76 L687.66 661.62 L689.67 661.48 L691.67 661.34 L693.67 661.20 L695.68 661.06 L697.68 660.91 L699.68 660.77 L701.69 660.62 L703.69 660.47 L705.69 660.32 L707.70 660.17 L709.70 660.01 L711.71 659.86 L713.71 659.70 L715.71 659.54 L717.72 659.38 L719.72 659.22 L721.72 659.06 L723.73 658.89 L725.73 658.72 L727.73 658.55 L729.74 658.38 L731.74 658.21 L733.74 658.04 L735.75 657.86 L737.75 657.68 L739.76 657.50 L741.76 657.32 L743.76 657.14 L745.77 656.95 L747.77 656.77 L749.77 656.58 L751.78 656.39 L753.78 656.20 L755.78 656.00 L757.79 655.81 L759.79 655.61 L761.80 655.41 L763.80 655.21 L765.80 655.00 L767.81 654.80 L769.81 654.59 L771.81 654.38 L773.82 654.17 L775.82 653.96 L777.82 653.74 L779.83 653.53 L781.83 653.31 L783.83 653.09 L785.84 652.86 L787.84 652.64 L789.85 652.41 L791.85 652.18 L793.85 651.95 L795.86 651.72 L797.86 651.49 L799.86 651.25 L801.87 651.01 L803.87 650.77 L805.87 650.53 L807.88 650.28 L809.88 650.03 L811.88 649.78 L813.89 649.53 L815.89 649.28 L817.90 649.02 L819.90 648.77 L821.90 648.51 L823.91 648.24 L825.91 647.98 L827.91 647.71 L829.92 647.44 L831.92 647.17 L833.92 646.90 L835.93 646.62 L837.93 646.35 L839.94 646.07 L841.94 645.79 L843.94 645.50 L845.95 645.22 L847.95 644.93 L849.95 644.64 L851.96 644.34 L853.96 644.05 L855.96 643.75 L857.97 643.45 L859.97 643.15 L861.97 642.84 L863.98 642.53 L865.98 642.23 L867.99 641.91 L869.99 641.60 L871.99 641.28 L874.00 640.96 L876.00 640.64" stroke="#000" stroke-width="3.2" fill="none" stroke-linecap="round"/>
<circle cx="608.3" cy="553.7" r="6" fill="#ff0000"/>
<circle cx="608.3" cy="572.8" r="6" fill="#ff0000"/>
<circle cx="608.3" cy="665.7" r="6" fill="#ff0000"/>
<path d="M45 520.5 L959 520.5" stroke="#000" stroke-width="1.3"/>
<path d="M46 687.5 L959 687.5" stroke="#888" stroke-width="1.2"/>
<path d="M45.25 520 L45.25 688.5 M959 520 L959 688.5" stroke="#000" stroke-width="1.6"/>
<path d="M38 562.40 L45 562.40 M38 604.10 L45 604.10 M38 645.70 L45 645.70 M38 687.30 L45 687.30 M959 687.50 L966 687.50 M959 670.80 L966 670.80 M959 654.10 L966 654.10 M959 645.75 L966 645.75 M959 637.40 L966 637.40 M959 620.70 L966 620.70 M959 604.00 L966 604.00 M959 587.30 L966 587.30 M959 570.60 L966 570.60 M959 562.25 L966 562.25" stroke="#000" stroke-width="1.5" fill="none"/>
<g>
<text x="811.30" y="18.80" text-anchor="start" fill="#000" font-size="16" textLength="132.50" lengthAdjust="spacing">CRE 3-3, 3*460 V</text>
<text x="24.80" y="14.80" text-anchor="middle" fill="#000" font-size="16">H</text>
<text x="24.30" y="35.20" text-anchor="middle" fill="#000" font-size="16">[m]</text>
<text x="982.00" y="14.80" text-anchor="middle" fill="#000" font-size="16">eta</text>
<text x="982.00" y="35.20" text-anchor="middle" fill="#000" font-size="16">[%]</text>
<text x="32.40" y="395.20" text-anchor="end" fill="#000" font-size="16">0</text>
<text x="32.40" y="351.82" text-anchor="end" fill="#000" font-size="16">5</text>
<text x="32.40" y="308.45" text-anchor="end" fill="#000" font-size="16">10</text>
<text x="32.40" y="265.07" text-anchor="end" fill="#000" font-size="16">15</text>
<text x="32.40" y="221.70" text-anchor="end" fill="#000" font-size="16">20</text>
<text x="32.40" y="178.32" text-anchor="end" fill="#000" font-size="16">25</text>
<text x="32.40" y="134.95" text-anchor="end" fill="#000" font-size="16">30</text>
<text x="32.40" y="91.58" text-anchor="end" fill="#000" font-size="16">35</text>
<text x="971.00" y="395.20" text-anchor="start" fill="#000" font-size="16">0</text>
<text x="971.00" y="351.82" text-anchor="start" fill="#000" font-size="16">20</text>
<text x="971.00" y="308.45" text-anchor="start" fill="#000" font-size="16">40</text>
<text x="971.00" y="265.07" text-anchor="start" fill="#000" font-size="16">60</text>
<text x="971.00" y="221.70" text-anchor="start" fill="#000" font-size="16">80</text>
<text x="971.00" y="178.32" text-anchor="start" fill="#000" font-size="16">100</text>
<text x="44.60" y="412.80" text-anchor="middle" fill="#000" font-size="16">0</text>
<text x="113.90" y="412.80" text-anchor="middle" fill="#000" font-size="16" textLength="24.00" lengthAdjust="spacing">0.5</text>
<text x="183.90" y="412.80" text-anchor="middle" fill="#000" font-size="16" textLength="24.00" lengthAdjust="spacing">1.0</text>
<text x="253.90" y="412.80" text-anchor="middle" fill="#000" font-size="16" textLength="24.00" lengthAdjust="spacing">1.5</text>
<text x="323.90" y="412.80" text-anchor="middle" fill="#000" font-size="16" textLength="24.00" lengthAdjust="spacing">2.0</text>
<text x="393.90" y="412.80" text-anchor="middle" fill="#000" font-size="16" textLength="24.00" lengthAdjust="spacing">2.5</text>
<text x="463.90" y="412.80" text-anchor="middle" fill="#000" font-size="16" textLength="24.00" lengthAdjust="spacing">3.0</text>
<text x="533.90" y="412.80" text-anchor="middle" fill="#000" font-size="16" textLength="24.00" lengthAdjust="spacing">3.5</text>
<text x="603.90" y="412.80" text-anchor="middle" fill="#000" font-size="16" textLength="24.00" lengthAdjust="spacing">4.0</text>
<text x="673.90" y="412.80" text-anchor="middle" fill="#000" font-size="16" textLength="24.00" lengthAdjust="spacing">4.5</text>
<text x="743.90" y="412.80" text-anchor="middle" fill="#000" font-size="16" textLength="24.00" lengthAdjust="spacing">5.0</text>
<text x="813.90" y="412.80" text-anchor="middle" fill="#000" font-size="16" textLength="24.00" lengthAdjust="spacing">5.5</text>
<text x="918.80" y="412.80" text-anchor="middle" fill="#000" font-size="16" textLength="61.50" lengthAdjust="spacing">Q [m&#179;/h]</text>
<text x="60.50" y="68.00" text-anchor="start" fill="#000" font-size="16">100 %</text>
<text x="64.50" y="72.60" text-anchor="start" fill="#000" font-size="16">99 %</text>
<text x="34.30" y="360.50" text-anchor="start" fill="#000" font-size="16" textLength="38.50" lengthAdjust="spacing">25 %</text>
<text x="48.30" y="445.70" text-anchor="start" fill="#000" font-size="16" textLength="104.00" lengthAdjust="spacing">Q = 4.02 m&#179;/h</text>
<text x="48.30" y="466.50" text-anchor="start" fill="#000" font-size="16" textLength="160.50" lengthAdjust="spacing">n = 100 % / 3967 rpm</text>
<text x="48.30" y="489.30" text-anchor="start" fill="#000" font-size="16" textLength="330.50" lengthAdjust="spacing">Liquid temperature during operation = 20 &#176;C</text>
<text x="48.30" y="509.40" text-anchor="start" fill="#000" font-size="16" textLength="142.00" lengthAdjust="spacing">Eta pump = 56.3 %</text>
<text x="433.20" y="445.70" text-anchor="start" fill="#000" font-size="16" textLength="92.00" lengthAdjust="spacing">H = 28.31 m</text>
<text x="433.20" y="466.50" text-anchor="start" fill="#000" font-size="16" textLength="170.50" lengthAdjust="spacing">Pumped liquid = Water</text>
<text x="433.20" y="489.30" text-anchor="start" fill="#000" font-size="16" textLength="166.00" lengthAdjust="spacing">Density = 998.2 kg/m&#179;</text>
<text x="433.20" y="509.40" text-anchor="start" fill="#000" font-size="16" textLength="312.00" lengthAdjust="spacing">Eta pump+motor+freq.converter = 48.2 %</text>
<text x="22.30" y="534.60" text-anchor="middle" fill="#000" font-size="16">P</text>
<text x="22.30" y="554.80" text-anchor="middle" fill="#000" font-size="16">[W]</text>
<text x="990.50" y="534.60" text-anchor="middle" fill="#000" font-size="16">NPSH</text>
<text x="990.50" y="554.60" text-anchor="middle" fill="#000" font-size="16">[m]</text>
<text x="32.40" y="608.80" text-anchor="end" fill="#000" font-size="16">400</text>
<text x="32.40" y="650.40" text-anchor="end" fill="#000" font-size="16">200</text>
<text x="32.40" y="692.00" text-anchor="end" fill="#000" font-size="16">0</text>
<text x="971.80" y="692.20" text-anchor="start" fill="#000" font-size="16">0</text>
<text x="971.80" y="675.50" text-anchor="start" fill="#000" font-size="16">2</text>
<text x="971.80" y="658.80" text-anchor="start" fill="#000" font-size="16">4</text>
<text x="971.80" y="650.45" text-anchor="start" fill="#000" font-size="16">5</text>
<text x="971.80" y="642.10" text-anchor="start" fill="#000" font-size="16">6</text>
<text x="971.80" y="625.40" text-anchor="start" fill="#000" font-size="16">8</text>
<text x="971.80" y="608.70" text-anchor="start" fill="#000" font-size="16">10</text>
<text x="971.80" y="592.00" text-anchor="start" fill="#000" font-size="16">12</text>
<text x="751.30" y="543.60" text-anchor="start" fill="#1d5799" font-size="16" textLength="196.00" lengthAdjust="spacing">P1 (motor+freq.converter)</text>
<text x="864.80" y="587.70" text-anchor="start" fill="#1d5799" font-size="16">P2</text>
<text x="48.30" y="715.60" text-anchor="start" fill="#000" font-size="16" textLength="277.00" lengthAdjust="spacing">P1 (motor+freq.converter) = 642.1 W</text>
<text x="48.30" y="737.60" text-anchor="start" fill="#000" font-size="16" textLength="101.00" lengthAdjust="spacing">P2 = 549.9 W</text>
<text x="48.30" y="758.80" text-anchor="start" fill="#000" font-size="16" textLength="116.50" lengthAdjust="spacing">NPSH = 2.64 m</text>
</g>
</svg>
</body></html>
